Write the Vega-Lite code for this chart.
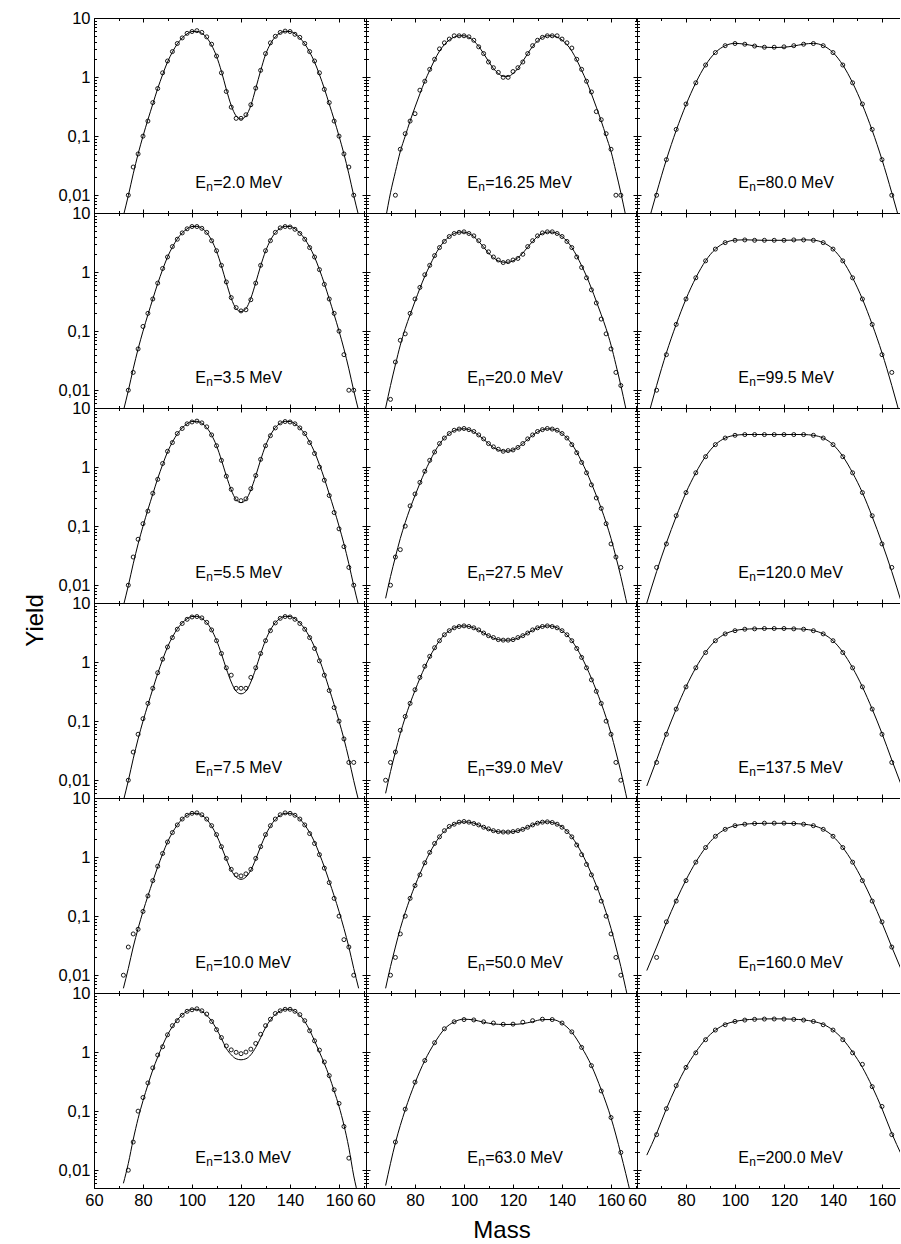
{
"$schema":"https://vega.github.io/schema/vega-lite/v6.json",
"background":"white",
"padding":{"left":23,"top":10,"right":0,"bottom":0},
"config":{"font":"Liberation Sans","view":{"stroke":null},
"axis":{"grid":false,"tickSize":-4,"labelPadding":8,"domainColor":"black","domainWidth":1,"tickColor":"black","tickWidth":1,"labelColor":"black","labelFontSize":16.5,"titleFontSize":24,"titleFontWeight":"normal","titleColor":"black","labelFlush":false,"labelOverlap":false,"labelBound":false},
"axisY":{"labelExpr":"abs(log(datum.value)/LN10 - round(log(datum.value)/LN10)) < 0.001 ? replace(format(datum.value, '~g'), '.', ',') : ''"}},
"datasets":{
"lab":[{"p":1,"t":"=2.0 MeV"},{"p":2,"t":"=3.5 MeV"},{"p":3,"t":"=5.5 MeV"},{"p":4,"t":"=7.5 MeV"},{"p":5,"t":"=10.0 MeV"},{"p":6,"t":"=13.0 MeV"},{"p":7,"t":"=16.25 MeV"},{"p":8,"t":"=20.0 MeV"},{"p":9,"t":"=27.5 MeV"},{"p":10,"t":"=39.0 MeV"},{"p":11,"t":"=50.0 MeV"},{"p":12,"t":"=63.0 MeV"},{"p":13,"t":"=80.0 MeV"},{"p":14,"t":"=99.5 MeV"},{"p":15,"t":"=120.0 MeV"},{"p":16,"t":"=137.5 MeV"},{"p":17,"t":"=160.0 MeV"},{"p":18,"t":"=200.0 MeV"}],
"d":[
{"p":1,"m":72,"f":0.0045},{"p":1,"m":74,"f":0.0098,"y":0.01},{"p":1,"m":76,"f":0.023,"y":0.03},{"p":1,"m":78,"f":0.05,"y":0.05},{"p":1,"m":80,"f":0.1,"y":0.1},{"p":1,"m":82,"f":0.19,"y":0.18},{"p":1,"m":84,"f":0.35,"y":0.37},{"p":1,"m":86,"f":0.64,"y":0.64},{"p":1,"m":88,"f":1.1,"y":1.18},{"p":1,"m":90,"f":1.8,"y":1.87},{"p":1,"m":92,"f":2.65,"y":2.7},{"p":1,"m":94,"f":3.65,"y":3.7},{"p":1,"m":96,"f":4.6,"y":4.6},{"p":1,"m":98,"f":5.4,"y":5.5},{"p":1,"m":100,"f":5.9,"y":5.9},{"p":1,"m":102,"f":5.95,"y":6.1},{"p":1,"m":104,"f":5.5,"y":5.7},{"p":1,"m":106,"f":4.65,"y":4.8},{"p":1,"m":108,"f":3.45,"y":3.6},{"p":1,"m":110,"f":2.25,"y":2.27},{"p":1,"m":112,"f":1.25,"y":1.18},{"p":1,"m":114,"f":0.62,"y":0.57},{"p":1,"m":116,"f":0.33,"y":0.31},{"p":1,"m":118,"f":0.22,"y":0.2},{"p":1,"m":120,"f":0.195,"y":0.2},{"p":1,"m":122,"f":0.22,"y":0.23},{"p":1,"m":124,"f":0.33,"y":0.34},{"p":1,"m":126,"f":0.64,"y":0.65},{"p":1,"m":128,"f":1.28,"y":1.3},{"p":1,"m":130,"f":2.4,"y":2.5},{"p":1,"m":132,"f":3.65,"y":3.8},{"p":1,"m":134,"f":4.8,"y":4.9},{"p":1,"m":136,"f":5.6,"y":5.7},{"p":1,"m":138,"f":5.95,"y":6.0},{"p":1,"m":140,"f":5.9,"y":5.9},{"p":1,"m":142,"f":5.4,"y":5.3},{"p":1,"m":144,"f":4.6,"y":4.7},{"p":1,"m":146,"f":3.65,"y":3.7},{"p":1,"m":148,"f":2.65,"y":2.7},{"p":1,"m":150,"f":1.8,"y":1.87},{"p":1,"m":152,"f":1.1,"y":1.18},{"p":1,"m":154,"f":0.64,"y":0.62},{"p":1,"m":156,"f":0.35,"y":0.37},{"p":1,"m":158,"f":0.19,"y":0.18},{"p":1,"m":160,"f":0.1,"y":0.1},{"p":1,"m":162,"f":0.05,"y":0.05},{"p":1,"m":164,"f":0.023,"y":0.03},{"p":1,"m":166,"f":0.0098,"y":0.01},{"p":1,"m":168,"f":0.0045},
{"p":2,"m":72,"f":0.0045},{"p":2,"m":74,"f":0.0098,"y":0.01},{"p":2,"m":76,"f":0.023,"y":0.02},{"p":2,"m":78,"f":0.05,"y":0.05},{"p":2,"m":80,"f":0.1,"y":0.12},{"p":2,"m":82,"f":0.19,"y":0.2},{"p":2,"m":84,"f":0.35,"y":0.35},{"p":2,"m":86,"f":0.64,"y":0.65},{"p":2,"m":88,"f":1.1,"y":1.15},{"p":2,"m":90,"f":1.8,"y":1.8},{"p":2,"m":92,"f":2.65,"y":2.7},{"p":2,"m":94,"f":3.65,"y":3.6},{"p":2,"m":96,"f":4.6,"y":4.6},{"p":2,"m":98,"f":5.4,"y":5.4},{"p":2,"m":100,"f":5.9,"y":5.9},{"p":2,"m":102,"f":5.95,"y":5.9},{"p":2,"m":104,"f":5.5,"y":5.5},{"p":2,"m":106,"f":4.65,"y":4.7},{"p":2,"m":108,"f":3.45,"y":3.4},{"p":2,"m":110,"f":2.25,"y":2.3},{"p":2,"m":112,"f":1.27,"y":1.3},{"p":2,"m":114,"f":0.66,"y":0.68},{"p":2,"m":116,"f":0.36,"y":0.37},{"p":2,"m":118,"f":0.24,"y":0.25},{"p":2,"m":120,"f":0.215,"y":0.22},{"p":2,"m":122,"f":0.24,"y":0.23},{"p":2,"m":124,"f":0.36,"y":0.34},{"p":2,"m":126,"f":0.66,"y":0.65},{"p":2,"m":128,"f":1.27,"y":1.3},{"p":2,"m":130,"f":2.25,"y":2.3},{"p":2,"m":132,"f":3.45,"y":3.4},{"p":2,"m":134,"f":4.65,"y":4.7},{"p":2,"m":136,"f":5.5,"y":5.6},{"p":2,"m":138,"f":5.95,"y":5.9},{"p":2,"m":140,"f":5.9,"y":5.8},{"p":2,"m":142,"f":5.4,"y":5.3},{"p":2,"m":144,"f":4.6,"y":4.5},{"p":2,"m":146,"f":3.65,"y":3.6},{"p":2,"m":148,"f":2.65,"y":2.6},{"p":2,"m":150,"f":1.8,"y":1.8},{"p":2,"m":152,"f":1.1,"y":1.1},{"p":2,"m":154,"f":0.64,"y":0.62},{"p":2,"m":156,"f":0.35,"y":0.35},{"p":2,"m":158,"f":0.19,"y":0.2},{"p":2,"m":160,"f":0.1,"y":0.1},{"p":2,"m":162,"f":0.05,"y":0.04},{"p":2,"m":164,"f":0.023,"y":0.01},{"p":2,"m":166,"f":0.0098,"y":0.01},{"p":2,"m":168,"f":0.0045},
{"p":3,"m":72,"f":0.0045},{"p":3,"m":74,"f":0.0098,"y":0.01},{"p":3,"m":76,"f":0.023,"y":0.03},{"p":3,"m":78,"f":0.05,"y":0.06},{"p":3,"m":80,"f":0.1,"y":0.11},{"p":3,"m":82,"f":0.19,"y":0.18},{"p":3,"m":84,"f":0.35,"y":0.36},{"p":3,"m":86,"f":0.64,"y":0.62},{"p":3,"m":88,"f":1.1,"y":1.15},{"p":3,"m":90,"f":1.8,"y":1.85},{"p":3,"m":92,"f":2.65,"y":2.6},{"p":3,"m":94,"f":3.65,"y":3.7},{"p":3,"m":96,"f":4.6,"y":4.5},{"p":3,"m":98,"f":5.4,"y":5.4},{"p":3,"m":100,"f":5.9,"y":5.8},{"p":3,"m":102,"f":5.95,"y":6.0},{"p":3,"m":104,"f":5.5,"y":5.6},{"p":3,"m":106,"f":4.65,"y":4.8},{"p":3,"m":108,"f":3.47,"y":3.5},{"p":3,"m":110,"f":2.3,"y":2.3},{"p":3,"m":112,"f":1.32,"y":1.3},{"p":3,"m":114,"f":0.71,"y":0.7},{"p":3,"m":116,"f":0.41,"y":0.42},{"p":3,"m":118,"f":0.28,"y":0.29},{"p":3,"m":120,"f":0.25,"y":0.27},{"p":3,"m":122,"f":0.28,"y":0.29},{"p":3,"m":124,"f":0.41,"y":0.43},{"p":3,"m":126,"f":0.71,"y":0.72},{"p":3,"m":128,"f":1.32,"y":1.35},{"p":3,"m":130,"f":2.3,"y":2.3},{"p":3,"m":132,"f":3.47,"y":3.4},{"p":3,"m":134,"f":4.65,"y":4.6},{"p":3,"m":136,"f":5.5,"y":5.6},{"p":3,"m":138,"f":5.95,"y":5.9},{"p":3,"m":140,"f":5.9,"y":5.8},{"p":3,"m":142,"f":5.4,"y":5.4},{"p":3,"m":144,"f":4.6,"y":4.6},{"p":3,"m":146,"f":3.65,"y":3.7},{"p":3,"m":148,"f":2.65,"y":2.6},{"p":3,"m":150,"f":1.8,"y":1.7},{"p":3,"m":152,"f":1.1,"y":1.0},{"p":3,"m":154,"f":0.64,"y":0.6},{"p":3,"m":156,"f":0.35,"y":0.33},{"p":3,"m":158,"f":0.19,"y":0.17},{"p":3,"m":160,"f":0.1,"y":0.09},{"p":3,"m":162,"f":0.05,"y":0.045},{"p":3,"m":164,"f":0.023,"y":0.02},{"p":3,"m":166,"f":0.0098,"y":0.01},{"p":3,"m":168,"f":0.0045},
{"p":4,"m":72,"f":0.0045},{"p":4,"m":74,"f":0.0098,"y":0.01},{"p":4,"m":76,"f":0.023,"y":0.03},{"p":4,"m":78,"f":0.05,"y":0.06},{"p":4,"m":80,"f":0.1,"y":0.11},{"p":4,"m":82,"f":0.19,"y":0.2},{"p":4,"m":84,"f":0.35,"y":0.36},{"p":4,"m":86,"f":0.64,"y":0.66},{"p":4,"m":88,"f":1.1,"y":1.12},{"p":4,"m":90,"f":1.8,"y":1.8},{"p":4,"m":92,"f":2.65,"y":2.6},{"p":4,"m":94,"f":3.65,"y":3.6},{"p":4,"m":96,"f":4.6,"y":4.5},{"p":4,"m":98,"f":5.4,"y":5.3},{"p":4,"m":100,"f":5.9,"y":5.8},{"p":4,"m":102,"f":5.95,"y":5.9},{"p":4,"m":104,"f":5.5,"y":5.6},{"p":4,"m":106,"f":4.65,"y":4.7},{"p":4,"m":108,"f":3.5,"y":3.5},{"p":4,"m":110,"f":2.33,"y":2.3},{"p":4,"m":112,"f":1.38,"y":1.4},{"p":4,"m":114,"f":0.77,"y":0.8},{"p":4,"m":116,"f":0.46,"y":0.6},{"p":4,"m":118,"f":0.32,"y":0.36},{"p":4,"m":120,"f":0.29,"y":0.36},{"p":4,"m":122,"f":0.32,"y":0.36},{"p":4,"m":124,"f":0.46,"y":0.55},{"p":4,"m":126,"f":0.77,"y":0.8},{"p":4,"m":128,"f":1.38,"y":1.4},{"p":4,"m":130,"f":2.33,"y":2.3},{"p":4,"m":132,"f":3.5,"y":3.4},{"p":4,"m":134,"f":4.65,"y":4.6},{"p":4,"m":136,"f":5.5,"y":5.5},{"p":4,"m":138,"f":5.95,"y":5.9},{"p":4,"m":140,"f":5.9,"y":5.8},{"p":4,"m":142,"f":5.4,"y":5.3},{"p":4,"m":144,"f":4.6,"y":4.5},{"p":4,"m":146,"f":3.65,"y":3.6},{"p":4,"m":148,"f":2.65,"y":2.6},{"p":4,"m":150,"f":1.8,"y":1.7},{"p":4,"m":152,"f":1.1,"y":1.05},{"p":4,"m":154,"f":0.64,"y":0.6},{"p":4,"m":156,"f":0.35,"y":0.33},{"p":4,"m":158,"f":0.19,"y":0.17},{"p":4,"m":160,"f":0.1,"y":0.1},{"p":4,"m":162,"f":0.05,"y":0.05},{"p":4,"m":164,"f":0.023,"y":0.02},{"p":4,"m":166,"f":0.0098,"y":0.02},{"p":4,"m":168,"f":0.0045},
{"p":5,"m":72,"f":0.006,"y":0.01},{"p":5,"m":74,"f":0.013,"y":0.03},{"p":5,"m":76,"f":0.03,"y":0.05},{"p":5,"m":78,"f":0.062,"y":0.06},{"p":5,"m":80,"f":0.12,"y":0.12},{"p":5,"m":82,"f":0.22,"y":0.22},{"p":5,"m":84,"f":0.39,"y":0.4},{"p":5,"m":86,"f":0.68,"y":0.7},{"p":5,"m":88,"f":1.13,"y":1.15},{"p":5,"m":90,"f":1.8,"y":1.8},{"p":5,"m":92,"f":2.6,"y":2.6},{"p":5,"m":94,"f":3.5,"y":3.5},{"p":5,"m":96,"f":4.4,"y":4.4},{"p":5,"m":98,"f":5.1,"y":5.1},{"p":5,"m":100,"f":5.5,"y":5.5},{"p":5,"m":102,"f":5.5,"y":5.6},{"p":5,"m":104,"f":5.1,"y":5.2},{"p":5,"m":106,"f":4.35,"y":4.4},{"p":5,"m":108,"f":3.35,"y":3.4},{"p":5,"m":110,"f":2.35,"y":2.4},{"p":5,"m":112,"f":1.5,"y":1.5},{"p":5,"m":114,"f":0.92,"y":0.95},{"p":5,"m":116,"f":0.6,"y":0.62},{"p":5,"m":118,"f":0.46,"y":0.5},{"p":5,"m":120,"f":0.42,"y":0.48},{"p":5,"m":122,"f":0.46,"y":0.52},{"p":5,"m":124,"f":0.6,"y":0.62},{"p":5,"m":126,"f":0.92,"y":0.95},{"p":5,"m":128,"f":1.5,"y":1.5},{"p":5,"m":130,"f":2.35,"y":2.4},{"p":5,"m":132,"f":3.35,"y":3.4},{"p":5,"m":134,"f":4.35,"y":4.4},{"p":5,"m":136,"f":5.1,"y":5.2},{"p":5,"m":138,"f":5.5,"y":5.6},{"p":5,"m":140,"f":5.5,"y":5.5},{"p":5,"m":142,"f":5.1,"y":5.1},{"p":5,"m":144,"f":4.4,"y":4.4},{"p":5,"m":146,"f":3.5,"y":3.5},{"p":5,"m":148,"f":2.6,"y":2.5},{"p":5,"m":150,"f":1.8,"y":1.7},{"p":5,"m":152,"f":1.13,"y":1.1},{"p":5,"m":154,"f":0.68,"y":0.65},{"p":5,"m":156,"f":0.39,"y":0.37},{"p":5,"m":158,"f":0.22,"y":0.2},{"p":5,"m":160,"f":0.12,"y":0.1},{"p":5,"m":162,"f":0.062,"y":0.04},{"p":5,"m":164,"f":0.03,"y":0.03},{"p":5,"m":166,"f":0.013,"y":0.01},{"p":5,"m":168,"f":0.006},
{"p":6,"m":72,"f":0.006},{"p":6,"m":74,"f":0.013,"y":0.01},{"p":6,"m":76,"f":0.033,"y":0.03},{"p":6,"m":78,"f":0.075,"y":0.1},{"p":6,"m":80,"f":0.15,"y":0.17},{"p":6,"m":82,"f":0.28,"y":0.3},{"p":6,"m":84,"f":0.5,"y":0.54},{"p":6,"m":86,"f":0.82,"y":0.89},{"p":6,"m":88,"f":1.3,"y":1.23},{"p":6,"m":90,"f":1.95,"y":1.96},{"p":6,"m":92,"f":2.7,"y":2.8},{"p":6,"m":94,"f":3.5,"y":3.4},{"p":6,"m":96,"f":4.3,"y":4.2},{"p":6,"m":98,"f":4.9,"y":4.9},{"p":6,"m":100,"f":5.3,"y":5.2},{"p":6,"m":102,"f":5.3,"y":5.4},{"p":6,"m":104,"f":4.9,"y":5.0},{"p":6,"m":106,"f":4.2,"y":4.4},{"p":6,"m":108,"f":3.35,"y":3.3},{"p":6,"m":110,"f":2.45,"y":2.4},{"p":6,"m":112,"f":1.7,"y":1.76},{"p":6,"m":114,"f":1.15,"y":1.27},{"p":6,"m":116,"f":0.9,"y":1.09},{"p":6,"m":118,"f":0.77,"y":0.99},{"p":6,"m":120,"f":0.74,"y":0.94},{"p":6,"m":122,"f":0.77,"y":1.0},{"p":6,"m":124,"f":0.9,"y":1.12},{"p":6,"m":126,"f":1.2,"y":1.4},{"p":6,"m":128,"f":1.75,"y":2.0},{"p":6,"m":130,"f":2.6,"y":2.8},{"p":6,"m":132,"f":3.5,"y":3.6},{"p":6,"m":134,"f":4.35,"y":4.5},{"p":6,"m":136,"f":4.95,"y":5.0},{"p":6,"m":138,"f":5.3,"y":5.3},{"p":6,"m":140,"f":5.3,"y":5.3},{"p":6,"m":142,"f":4.9,"y":4.9},{"p":6,"m":144,"f":4.2,"y":4.3},{"p":6,"m":146,"f":3.3,"y":3.4},{"p":6,"m":148,"f":2.35,"y":2.3},{"p":6,"m":150,"f":1.55,"y":1.55},{"p":6,"m":152,"f":1.0,"y":1.08},{"p":6,"m":154,"f":0.64,"y":0.68},{"p":6,"m":156,"f":0.39,"y":0.4},{"p":6,"m":158,"f":0.22,"y":0.23},{"p":6,"m":160,"f":0.12,"y":0.135},{"p":6,"m":162,"f":0.058,"y":0.055},{"p":6,"m":164,"f":0.024,"y":0.016},{"p":6,"m":166,"f":0.008},{"p":6,"m":168,"f":0.0035},
{"p":7,"m":68,"f":0.004},{"p":7,"m":70,"f":0.011},{"p":7,"m":72,"f":0.025,"y":0.01},{"p":7,"m":74,"f":0.055,"y":0.06},{"p":7,"m":76,"f":0.1,"y":0.11},{"p":7,"m":78,"f":0.18,"y":0.18},{"p":7,"m":80,"f":0.31,"y":0.24},{"p":7,"m":82,"f":0.52,"y":0.6},{"p":7,"m":84,"f":0.85,"y":0.85},{"p":7,"m":86,"f":1.3,"y":1.35},{"p":7,"m":88,"f":1.95,"y":2.0},{"p":7,"m":90,"f":2.75,"y":3.0},{"p":7,"m":92,"f":3.55,"y":3.8},{"p":7,"m":94,"f":4.25,"y":4.4},{"p":7,"m":96,"f":4.75,"y":5.0},{"p":7,"m":98,"f":5.0,"y":5.0},{"p":7,"m":100,"f":5.0,"y":5.0},{"p":7,"m":102,"f":4.7,"y":4.8},{"p":7,"m":104,"f":4.1,"y":4.2},{"p":7,"m":106,"f":3.3,"y":3.25},{"p":7,"m":108,"f":2.5,"y":2.5},{"p":7,"m":110,"f":1.85,"y":1.8},{"p":7,"m":112,"f":1.4,"y":1.44},{"p":7,"m":114,"f":1.15,"y":1.2},{"p":7,"m":116,"f":1.03,"y":0.99},{"p":7,"m":118,"f":1.03,"y":0.99},{"p":7,"m":120,"f":1.15,"y":1.24},{"p":7,"m":122,"f":1.4,"y":1.44},{"p":7,"m":124,"f":1.85,"y":1.8},{"p":7,"m":126,"f":2.5,"y":2.5},{"p":7,"m":128,"f":3.3,"y":3.4},{"p":7,"m":130,"f":4.1,"y":4.2},{"p":7,"m":132,"f":4.7,"y":4.7},{"p":7,"m":134,"f":5.0,"y":5.0},{"p":7,"m":136,"f":5.0,"y":5.0},{"p":7,"m":138,"f":4.75,"y":5.0},{"p":7,"m":140,"f":4.25,"y":4.4},{"p":7,"m":142,"f":3.55,"y":3.8},{"p":7,"m":144,"f":2.75,"y":3.1},{"p":7,"m":146,"f":1.95,"y":2.0},{"p":7,"m":148,"f":1.3,"y":1.35},{"p":7,"m":150,"f":0.85,"y":0.85},{"p":7,"m":152,"f":0.52,"y":0.56},{"p":7,"m":154,"f":0.31,"y":0.26},{"p":7,"m":156,"f":0.18,"y":0.19},{"p":7,"m":158,"f":0.1,"y":0.11},{"p":7,"m":160,"f":0.055,"y":0.06},{"p":7,"m":162,"f":0.025,"y":0.01},{"p":7,"m":164,"f":0.011,"y":0.01},{"p":7,"m":166,"f":0.0045},{"p":7,"m":168,"f":0.0018},
{"p":8,"m":68,"f":0.005},{"p":8,"m":70,"f":0.012,"y":0.007},{"p":8,"m":72,"f":0.027,"y":0.03},{"p":8,"m":74,"f":0.058,"y":0.07},{"p":8,"m":76,"f":0.11,"y":0.09},{"p":8,"m":78,"f":0.19,"y":0.2},{"p":8,"m":80,"f":0.32,"y":0.35},{"p":8,"m":82,"f":0.53,"y":0.55},{"p":8,"m":84,"f":0.85,"y":0.9},{"p":8,"m":86,"f":1.28,"y":1.3},{"p":8,"m":88,"f":1.88,"y":1.9},{"p":8,"m":90,"f":2.6,"y":2.6},{"p":8,"m":92,"f":3.35,"y":3.3},{"p":8,"m":94,"f":4.0,"y":4.0},{"p":8,"m":96,"f":4.5,"y":4.5},{"p":8,"m":98,"f":4.75,"y":4.7},{"p":8,"m":100,"f":4.75,"y":4.8},{"p":8,"m":102,"f":4.5,"y":4.5},{"p":8,"m":104,"f":4.0,"y":4.1},{"p":8,"m":106,"f":3.3,"y":3.4},{"p":8,"m":108,"f":2.65,"y":2.7},{"p":8,"m":110,"f":2.1,"y":2.2},{"p":8,"m":112,"f":1.75,"y":1.8},{"p":8,"m":114,"f":1.55,"y":1.6},{"p":8,"m":116,"f":1.47,"y":1.45},{"p":8,"m":118,"f":1.47,"y":1.5},{"p":8,"m":120,"f":1.55,"y":1.6},{"p":8,"m":122,"f":1.75,"y":1.7},{"p":8,"m":124,"f":2.1,"y":2.0},{"p":8,"m":126,"f":2.65,"y":2.7},{"p":8,"m":128,"f":3.3,"y":3.4},{"p":8,"m":130,"f":4.0,"y":4.1},{"p":8,"m":132,"f":4.5,"y":4.6},{"p":8,"m":134,"f":4.75,"y":4.8},{"p":8,"m":136,"f":4.75,"y":4.8},{"p":8,"m":138,"f":4.5,"y":4.5},{"p":8,"m":140,"f":4.0,"y":4.0},{"p":8,"m":142,"f":3.35,"y":3.3},{"p":8,"m":144,"f":2.6,"y":2.6},{"p":8,"m":146,"f":1.88,"y":1.8},{"p":8,"m":148,"f":1.28,"y":1.2},{"p":8,"m":150,"f":0.85,"y":0.8},{"p":8,"m":152,"f":0.53,"y":0.5},{"p":8,"m":154,"f":0.32,"y":0.3},{"p":8,"m":156,"f":0.19,"y":0.16},{"p":8,"m":158,"f":0.11,"y":0.09},{"p":8,"m":160,"f":0.058,"y":0.05},{"p":8,"m":162,"f":0.027,"y":0.02},{"p":8,"m":164,"f":0.012,"y":0.012},{"p":8,"m":166,"f":0.005},{"p":8,"m":168,"f":0.002},
{"p":9,"m":68,"f":0.006},{"p":9,"m":70,"f":0.014,"y":0.01},{"p":9,"m":72,"f":0.03,"y":0.03},{"p":9,"m":74,"f":0.062,"y":0.04},{"p":9,"m":76,"f":0.115,"y":0.1},{"p":9,"m":78,"f":0.2,"y":0.22},{"p":9,"m":80,"f":0.33,"y":0.35},{"p":9,"m":82,"f":0.53,"y":0.55},{"p":9,"m":84,"f":0.83,"y":0.85},{"p":9,"m":86,"f":1.24,"y":1.3},{"p":9,"m":88,"f":1.8,"y":1.8},{"p":9,"m":90,"f":2.45,"y":2.5},{"p":9,"m":92,"f":3.1,"y":3.1},{"p":9,"m":94,"f":3.7,"y":3.7},{"p":9,"m":96,"f":4.15,"y":4.2},{"p":9,"m":98,"f":4.4,"y":4.4},{"p":9,"m":100,"f":4.45,"y":4.5},{"p":9,"m":102,"f":4.3,"y":4.3},{"p":9,"m":104,"f":3.95,"y":4.0},{"p":9,"m":106,"f":3.45,"y":3.5},{"p":9,"m":108,"f":2.95,"y":3.0},{"p":9,"m":110,"f":2.5,"y":2.5},{"p":9,"m":112,"f":2.15,"y":2.2},{"p":9,"m":114,"f":1.95,"y":2.0},{"p":9,"m":116,"f":1.87,"y":1.85},{"p":9,"m":118,"f":1.87,"y":1.9},{"p":9,"m":120,"f":1.95,"y":1.95},{"p":9,"m":122,"f":2.15,"y":2.15},{"p":9,"m":124,"f":2.5,"y":2.5},{"p":9,"m":126,"f":2.95,"y":3.0},{"p":9,"m":128,"f":3.45,"y":3.5},{"p":9,"m":130,"f":3.95,"y":4.0},{"p":9,"m":132,"f":4.3,"y":4.3},{"p":9,"m":134,"f":4.45,"y":4.5},{"p":9,"m":136,"f":4.4,"y":4.4},{"p":9,"m":138,"f":4.15,"y":4.2},{"p":9,"m":140,"f":3.7,"y":3.7},{"p":9,"m":142,"f":3.1,"y":3.1},{"p":9,"m":144,"f":2.45,"y":2.4},{"p":9,"m":146,"f":1.8,"y":1.75},{"p":9,"m":148,"f":1.24,"y":1.2},{"p":9,"m":150,"f":0.83,"y":0.8},{"p":9,"m":152,"f":0.53,"y":0.5},{"p":9,"m":154,"f":0.33,"y":0.3},{"p":9,"m":156,"f":0.2,"y":0.2},{"p":9,"m":158,"f":0.115,"y":0.11},{"p":9,"m":160,"f":0.062,"y":0.05},{"p":9,"m":162,"f":0.03,"y":0.03},{"p":9,"m":164,"f":0.014,"y":0.02},{"p":9,"m":166,"f":0.006},{"p":9,"m":168,"f":0.0025},
{"p":10,"m":68,"f":0.006,"y":0.01},{"p":10,"m":70,"f":0.014,"y":0.02},{"p":10,"m":72,"f":0.03,"y":0.03},{"p":10,"m":74,"f":0.062,"y":0.07},{"p":10,"m":76,"f":0.115,"y":0.12},{"p":10,"m":78,"f":0.2,"y":0.2},{"p":10,"m":80,"f":0.33,"y":0.34},{"p":10,"m":82,"f":0.53,"y":0.55},{"p":10,"m":84,"f":0.82,"y":0.85},{"p":10,"m":86,"f":1.22,"y":1.25},{"p":10,"m":88,"f":1.72,"y":1.75},{"p":10,"m":90,"f":2.3,"y":2.3},{"p":10,"m":92,"f":2.9,"y":2.9},{"p":10,"m":94,"f":3.4,"y":3.4},{"p":10,"m":96,"f":3.8,"y":3.8},{"p":10,"m":98,"f":4.05,"y":4.0},{"p":10,"m":100,"f":4.1,"y":4.1},{"p":10,"m":102,"f":4.0,"y":4.0},{"p":10,"m":104,"f":3.8,"y":3.8},{"p":10,"m":106,"f":3.45,"y":3.5},{"p":10,"m":108,"f":3.1,"y":3.1},{"p":10,"m":110,"f":2.8,"y":2.8},{"p":10,"m":112,"f":2.55,"y":2.6},{"p":10,"m":114,"f":2.4,"y":2.4},{"p":10,"m":116,"f":2.35,"y":2.35},{"p":10,"m":118,"f":2.35,"y":2.35},{"p":10,"m":120,"f":2.4,"y":2.4},{"p":10,"m":122,"f":2.55,"y":2.6},{"p":10,"m":124,"f":2.8,"y":2.8},{"p":10,"m":126,"f":3.1,"y":3.1},{"p":10,"m":128,"f":3.45,"y":3.5},{"p":10,"m":130,"f":3.8,"y":3.8},{"p":10,"m":132,"f":4.0,"y":4.0},{"p":10,"m":134,"f":4.1,"y":4.1},{"p":10,"m":136,"f":4.05,"y":4.0},{"p":10,"m":138,"f":3.8,"y":3.8},{"p":10,"m":140,"f":3.4,"y":3.4},{"p":10,"m":142,"f":2.9,"y":2.9},{"p":10,"m":144,"f":2.3,"y":2.3},{"p":10,"m":146,"f":1.72,"y":1.7},{"p":10,"m":148,"f":1.22,"y":1.2},{"p":10,"m":150,"f":0.82,"y":0.8},{"p":10,"m":152,"f":0.53,"y":0.5},{"p":10,"m":154,"f":0.33,"y":0.32},{"p":10,"m":156,"f":0.2,"y":0.2},{"p":10,"m":158,"f":0.115,"y":0.1},{"p":10,"m":160,"f":0.062,"y":0.06},{"p":10,"m":162,"f":0.03,"y":0.02},{"p":10,"m":164,"f":0.014,"y":0.01},{"p":10,"m":166,"f":0.006},{"p":10,"m":168,"f":0.0025},
{"p":11,"m":68,"f":0.006},{"p":11,"m":70,"f":0.014,"y":0.01},{"p":11,"m":72,"f":0.03,"y":0.02},{"p":11,"m":74,"f":0.062,"y":0.05},{"p":11,"m":76,"f":0.115,"y":0.1},{"p":11,"m":78,"f":0.2,"y":0.2},{"p":11,"m":80,"f":0.33,"y":0.33},{"p":11,"m":82,"f":0.52,"y":0.5},{"p":11,"m":84,"f":0.8,"y":0.8},{"p":11,"m":86,"f":1.18,"y":1.2},{"p":11,"m":88,"f":1.65,"y":1.7},{"p":11,"m":90,"f":2.2,"y":2.2},{"p":11,"m":92,"f":2.75,"y":2.8},{"p":11,"m":94,"f":3.25,"y":3.3},{"p":11,"m":96,"f":3.6,"y":3.6},{"p":11,"m":98,"f":3.85,"y":3.9},{"p":11,"m":100,"f":3.95,"y":4.0},{"p":11,"m":102,"f":3.9,"y":3.9},{"p":11,"m":104,"f":3.75,"y":3.7},{"p":11,"m":106,"f":3.5,"y":3.5},{"p":11,"m":108,"f":3.2,"y":3.2},{"p":11,"m":110,"f":2.95,"y":3.0},{"p":11,"m":112,"f":2.78,"y":2.8},{"p":11,"m":114,"f":2.68,"y":2.7},{"p":11,"m":116,"f":2.65,"y":2.65},{"p":11,"m":118,"f":2.65,"y":2.65},{"p":11,"m":120,"f":2.68,"y":2.7},{"p":11,"m":122,"f":2.78,"y":2.8},{"p":11,"m":124,"f":2.95,"y":2.95},{"p":11,"m":126,"f":3.2,"y":3.2},{"p":11,"m":128,"f":3.5,"y":3.5},{"p":11,"m":130,"f":3.75,"y":3.75},{"p":11,"m":132,"f":3.9,"y":3.9},{"p":11,"m":134,"f":3.95,"y":3.95},{"p":11,"m":136,"f":3.85,"y":3.85},{"p":11,"m":138,"f":3.6,"y":3.6},{"p":11,"m":140,"f":3.25,"y":3.2},{"p":11,"m":142,"f":2.75,"y":2.7},{"p":11,"m":144,"f":2.2,"y":2.2},{"p":11,"m":146,"f":1.65,"y":1.6},{"p":11,"m":148,"f":1.18,"y":1.1},{"p":11,"m":150,"f":0.8,"y":0.75},{"p":11,"m":152,"f":0.52,"y":0.5},{"p":11,"m":154,"f":0.33,"y":0.3},{"p":11,"m":156,"f":0.2,"y":0.18},{"p":11,"m":158,"f":0.115,"y":0.1},{"p":11,"m":160,"f":0.062,"y":0.05},{"p":11,"m":162,"f":0.03,"y":0.02},{"p":11,"m":164,"f":0.014,"y":0.01},{"p":11,"m":166,"f":0.006},{"p":11,"m":168,"f":0.0025},
{"p":12,"m":68,"f":0.0055},{"p":12,"m":72,"f":0.029,"y":0.03},{"p":12,"m":76,"f":0.105,"y":0.108},{"p":12,"m":80,"f":0.3,"y":0.31},{"p":12,"m":84,"f":0.72,"y":0.72},{"p":12,"m":88,"f":1.43,"y":1.44},{"p":12,"m":92,"f":2.45,"y":2.48},{"p":12,"m":96,"f":3.25,"y":3.26},{"p":12,"m":100,"f":3.6,"y":3.55},{"p":12,"m":104,"f":3.5,"y":3.5},{"p":12,"m":108,"f":3.2,"y":3.25},{"p":12,"m":112,"f":3.0,"y":3.1},{"p":12,"m":116,"f":2.93,"y":2.95},{"p":12,"m":120,"f":2.94,"y":2.97},{"p":12,"m":124,"f":3.03,"y":3.2},{"p":12,"m":128,"f":3.27,"y":3.4},{"p":12,"m":132,"f":3.55,"y":3.6},{"p":12,"m":136,"f":3.55,"y":3.55},{"p":12,"m":140,"f":3.07,"y":3.1},{"p":12,"m":144,"f":2.17,"y":2.2},{"p":12,"m":148,"f":1.21,"y":1.2},{"p":12,"m":152,"f":0.59,"y":0.59},{"p":12,"m":156,"f":0.23,"y":0.22},{"p":12,"m":160,"f":0.077,"y":0.078},{"p":12,"m":164,"f":0.019,"y":0.02},{"p":12,"m":168,"f":0.004},
{"p":13,"m":64,"f":0.0028},{"p":13,"m":68,"f":0.011,"y":0.01},{"p":13,"m":72,"f":0.04,"y":0.04},{"p":13,"m":76,"f":0.125,"y":0.13},{"p":13,"m":80,"f":0.34,"y":0.35},{"p":13,"m":84,"f":0.8,"y":0.8},{"p":13,"m":88,"f":1.6,"y":1.6},{"p":13,"m":92,"f":2.6,"y":2.6},{"p":13,"m":96,"f":3.4,"y":3.4},{"p":13,"m":100,"f":3.72,"y":3.7},{"p":13,"m":104,"f":3.6,"y":3.6},{"p":13,"m":108,"f":3.36,"y":3.35},{"p":13,"m":112,"f":3.2,"y":3.2},{"p":13,"m":116,"f":3.16,"y":3.2},{"p":13,"m":120,"f":3.2,"y":3.25},{"p":13,"m":124,"f":3.36,"y":3.4},{"p":13,"m":128,"f":3.6,"y":3.6},{"p":13,"m":132,"f":3.72,"y":3.7},{"p":13,"m":136,"f":3.4,"y":3.4},{"p":13,"m":140,"f":2.6,"y":2.6},{"p":13,"m":144,"f":1.6,"y":1.6},{"p":13,"m":148,"f":0.8,"y":0.8},{"p":13,"m":152,"f":0.34,"y":0.35},{"p":13,"m":156,"f":0.125,"y":0.13},{"p":13,"m":160,"f":0.04,"y":0.04},{"p":13,"m":164,"f":0.011,"y":0.01},{"p":13,"m":168,"f":0.0028},
{"p":14,"m":64,"f":0.003},{"p":14,"m":68,"f":0.012,"y":0.01},{"p":14,"m":72,"f":0.043,"y":0.04},{"p":14,"m":76,"f":0.13,"y":0.13},{"p":14,"m":80,"f":0.35,"y":0.35},{"p":14,"m":84,"f":0.8,"y":0.8},{"p":14,"m":88,"f":1.55,"y":1.55},{"p":14,"m":92,"f":2.45,"y":2.45},{"p":14,"m":96,"f":3.15,"y":3.15},{"p":14,"m":100,"f":3.47,"y":3.45},{"p":14,"m":104,"f":3.52,"y":3.5},{"p":14,"m":108,"f":3.48,"y":3.45},{"p":14,"m":112,"f":3.45,"y":3.45},{"p":14,"m":116,"f":3.45,"y":3.45},{"p":14,"m":120,"f":3.45,"y":3.45},{"p":14,"m":124,"f":3.48,"y":3.5},{"p":14,"m":128,"f":3.52,"y":3.5},{"p":14,"m":132,"f":3.47,"y":3.45},{"p":14,"m":136,"f":3.15,"y":3.15},{"p":14,"m":140,"f":2.45,"y":2.45},{"p":14,"m":144,"f":1.55,"y":1.55},{"p":14,"m":148,"f":0.8,"y":0.8},{"p":14,"m":152,"f":0.35,"y":0.35},{"p":14,"m":156,"f":0.13,"y":0.13},{"p":14,"m":160,"f":0.043,"y":0.04},{"p":14,"m":164,"f":0.012,"y":0.02},{"p":14,"m":168,"f":0.003},
{"p":15,"m":64,"f":0.005},{"p":15,"m":68,"f":0.017,"y":0.02},{"p":15,"m":72,"f":0.052,"y":0.05},{"p":15,"m":76,"f":0.145,"y":0.15},{"p":15,"m":80,"f":0.37,"y":0.37},{"p":15,"m":84,"f":0.8,"y":0.8},{"p":15,"m":88,"f":1.52,"y":1.5},{"p":15,"m":92,"f":2.4,"y":2.4},{"p":15,"m":96,"f":3.1,"y":3.1},{"p":15,"m":100,"f":3.45,"y":3.45},{"p":15,"m":104,"f":3.55,"y":3.55},{"p":15,"m":108,"f":3.56,"y":3.55},{"p":15,"m":112,"f":3.55,"y":3.55},{"p":15,"m":116,"f":3.55,"y":3.55},{"p":15,"m":120,"f":3.55,"y":3.55},{"p":15,"m":124,"f":3.56,"y":3.55},{"p":15,"m":128,"f":3.55,"y":3.55},{"p":15,"m":132,"f":3.45,"y":3.45},{"p":15,"m":136,"f":3.1,"y":3.1},{"p":15,"m":140,"f":2.4,"y":2.4},{"p":15,"m":144,"f":1.52,"y":1.5},{"p":15,"m":148,"f":0.8,"y":0.8},{"p":15,"m":152,"f":0.37,"y":0.37},{"p":15,"m":156,"f":0.145,"y":0.15},{"p":15,"m":160,"f":0.052,"y":0.05},{"p":15,"m":164,"f":0.017,"y":0.02},{"p":15,"m":168,"f":0.005},
{"p":16,"m":64,"f":0.008},{"p":16,"m":68,"f":0.022,"y":0.02},{"p":16,"m":72,"f":0.062,"y":0.06},{"p":16,"m":76,"f":0.16,"y":0.16},{"p":16,"m":80,"f":0.38,"y":0.38},{"p":16,"m":84,"f":0.8,"y":0.8},{"p":16,"m":88,"f":1.47,"y":1.45},{"p":16,"m":92,"f":2.3,"y":2.3},{"p":16,"m":96,"f":3.0,"y":3.0},{"p":16,"m":100,"f":3.42,"y":3.4},{"p":16,"m":104,"f":3.6,"y":3.6},{"p":16,"m":108,"f":3.66,"y":3.65},{"p":16,"m":112,"f":3.68,"y":3.7},{"p":16,"m":116,"f":3.68,"y":3.7},{"p":16,"m":120,"f":3.68,"y":3.7},{"p":16,"m":124,"f":3.66,"y":3.65},{"p":16,"m":128,"f":3.6,"y":3.6},{"p":16,"m":132,"f":3.42,"y":3.4},{"p":16,"m":136,"f":3.0,"y":3.0},{"p":16,"m":140,"f":2.3,"y":2.3},{"p":16,"m":144,"f":1.47,"y":1.45},{"p":16,"m":148,"f":0.8,"y":0.8},{"p":16,"m":152,"f":0.38,"y":0.38},{"p":16,"m":156,"f":0.16,"y":0.16},{"p":16,"m":160,"f":0.062,"y":0.06},{"p":16,"m":164,"f":0.022,"y":0.02},{"p":16,"m":168,"f":0.008},
{"p":17,"m":64,"f":0.012},{"p":17,"m":68,"f":0.03,"y":0.02},{"p":17,"m":72,"f":0.077,"y":0.08},{"p":17,"m":76,"f":0.185,"y":0.18},{"p":17,"m":80,"f":0.41,"y":0.4},{"p":17,"m":84,"f":0.82,"y":0.82},{"p":17,"m":88,"f":1.45,"y":1.45},{"p":17,"m":92,"f":2.25,"y":2.25},{"p":17,"m":96,"f":2.95,"y":2.95},{"p":17,"m":100,"f":3.4,"y":3.4},{"p":17,"m":104,"f":3.6,"y":3.6},{"p":17,"m":108,"f":3.7,"y":3.7},{"p":17,"m":112,"f":3.73,"y":3.75},{"p":17,"m":116,"f":3.73,"y":3.75},{"p":17,"m":120,"f":3.73,"y":3.75},{"p":17,"m":124,"f":3.7,"y":3.7},{"p":17,"m":128,"f":3.6,"y":3.6},{"p":17,"m":132,"f":3.4,"y":3.4},{"p":17,"m":136,"f":2.95,"y":2.95},{"p":17,"m":140,"f":2.25,"y":2.25},{"p":17,"m":144,"f":1.45,"y":1.45},{"p":17,"m":148,"f":0.82,"y":0.82},{"p":17,"m":152,"f":0.41,"y":0.4},{"p":17,"m":156,"f":0.185,"y":0.18},{"p":17,"m":160,"f":0.077,"y":0.08},{"p":17,"m":164,"f":0.03,"y":0.03},{"p":17,"m":168,"f":0.012},
{"p":18,"m":64,"f":0.018},{"p":18,"m":68,"f":0.042,"y":0.04},{"p":18,"m":72,"f":0.11,"y":0.11},{"p":18,"m":76,"f":0.26,"y":0.27},{"p":18,"m":80,"f":0.55,"y":0.55},{"p":18,"m":84,"f":1.0,"y":0.97},{"p":18,"m":88,"f":1.65,"y":1.62},{"p":18,"m":92,"f":2.35,"y":2.36},{"p":18,"m":96,"f":2.95,"y":2.9},{"p":18,"m":100,"f":3.3,"y":3.3},{"p":18,"m":104,"f":3.5,"y":3.48},{"p":18,"m":108,"f":3.6,"y":3.58},{"p":18,"m":112,"f":3.64,"y":3.62},{"p":18,"m":116,"f":3.65,"y":3.63},{"p":18,"m":120,"f":3.64,"y":3.62},{"p":18,"m":124,"f":3.6,"y":3.58},{"p":18,"m":128,"f":3.5,"y":3.48},{"p":18,"m":132,"f":3.3,"y":3.3},{"p":18,"m":136,"f":2.95,"y":2.9},{"p":18,"m":140,"f":2.35,"y":2.36},{"p":18,"m":144,"f":1.65,"y":1.62},{"p":18,"m":148,"f":1.0,"y":0.97},{"p":18,"m":152,"f":0.55,"y":0.62},{"p":18,"m":156,"f":0.26,"y":0.26},{"p":18,"m":160,"f":0.11,"y":0.12},{"p":18,"m":164,"f":0.042,"y":0.04},{"p":18,"m":168,"f":0.018}
]},
"columns":3,
"spacing":0,
"bounds":"flush",
"concat":[
{"width":272,"height":195,"data":{"name":"d"},"transform":[{"filter":"datum.p==1"}],"resolve":{"axis":{"x":"independent","y":"independent"}},"layer":[
{"mark":{"type":"line","color":"black","strokeWidth":1,"interpolate":"monotone","clip":true},"encoding":{"x":{"field":"m","type":"quantitative","scale":{"domain":[60,171],"nice":false,"zero":false},"axis":{"orient":"bottom","labels":false,"title":null,"values":[60,80,100,120,140,160]}},"y":{"field":"f","type":"quantitative","scale":{"type":"log","domain":[0.005,10],"nice":false},"axis":{"orient":"left","title":null,"values":[0.01,0.1,1,10]}}}},
{"transform":[{"filter":"isValid(datum.y)"}],"mark":{"type":"point","shape":"circle","filled":false,"color":"black","opacity":1,"size":16,"strokeWidth":0.9,"clip":true},"encoding":{"x":{"field":"m","type":"quantitative","axis":{"orient":"top","labels":false,"title":null,"values":[60,80,100,120,140,160]}},"y":{"field":"y","type":"quantitative","axis":{"orient":"right","labels":false,"title":null,"values":[0.01,0.1,1,10]}}}},
{"data":{"name":"lab"},"transform":[{"filter":"datum.p==1"}],"mark":{"type":"text","text":"E","align":"left","baseline":"middle","fontSize":16},"encoding":{"x":{"datum":101.3,"type":"quantitative","axis":{"orient":"bottom","labels":false,"domain":false,"title":null,"tickSize":-2.5,"values":[70,90,110,130,150,170]}},"y":{"datum":0.016,"type":"quantitative","axis":{"orient":"left","labels":false,"domain":false,"title":null,"tickSize":-2.5,"values":[0.005,0.006,0.007,0.008,0.009,0.02,0.03,0.04,0.05,0.06,0.07,0.08,0.09,0.2,0.3,0.4,0.5,0.6,0.7,0.8,0.9,2,3,4,5,6,7,8,9]}}}},
{"data":{"name":"lab"},"transform":[{"filter":"datum.p==1"}],"mark":{"type":"text","text":"n","align":"left","baseline":"middle","fontSize":12,"dx":11,"dy":4},"encoding":{"x":{"datum":101.3,"type":"quantitative","axis":{"orient":"top","labels":false,"domain":false,"title":null,"tickSize":-2.5,"values":[70,90,110,130,150,170]}},"y":{"datum":0.016,"type":"quantitative","axis":{"orient":"right","labels":false,"domain":false,"title":null,"tickSize":-2.5,"values":[0.005,0.006,0.007,0.008,0.009,0.02,0.03,0.04,0.05,0.06,0.07,0.08,0.09,0.2,0.3,0.4,0.5,0.6,0.7,0.8,0.9,2,3,4,5,6,7,8,9]}}}},
{"data":{"name":"lab"},"transform":[{"filter":"datum.p==1"}],"mark":{"type":"text","align":"left","baseline":"middle","fontSize":16,"dx":18},"encoding":{"x":{"datum":101.3,"type":"quantitative","axis":null},"y":{"datum":0.016,"type":"quantitative","axis":null},"text":{"field":"t"}}}]},
{"width":271,"height":195,"data":{"name":"d"},"transform":[{"filter":"datum.p==7"}],"resolve":{"axis":{"x":"independent","y":"independent"}},"layer":[
{"mark":{"type":"line","color":"black","strokeWidth":1,"interpolate":"monotone","clip":true},"encoding":{"x":{"field":"m","type":"quantitative","scale":{"domain":[60,170.6],"nice":false,"zero":false},"axis":{"orient":"bottom","labels":false,"title":null,"values":[60,80,100,120,140,160]}},"y":{"field":"f","type":"quantitative","scale":{"type":"log","domain":[0.005,10],"nice":false},"axis":{"orient":"left","labels":false,"title":null,"values":[0.01,0.1,1,10]}}}},
{"transform":[{"filter":"isValid(datum.y)"}],"mark":{"type":"point","shape":"circle","filled":false,"color":"black","opacity":1,"size":16,"strokeWidth":0.9,"clip":true},"encoding":{"x":{"field":"m","type":"quantitative","axis":{"orient":"top","labels":false,"title":null,"values":[60,80,100,120,140,160]}},"y":{"field":"y","type":"quantitative","axis":{"orient":"right","labels":false,"title":null,"values":[0.01,0.1,1,10]}}}},
{"data":{"name":"lab"},"transform":[{"filter":"datum.p==7"}],"mark":{"type":"text","text":"E","align":"left","baseline":"middle","fontSize":16},"encoding":{"x":{"datum":101.3,"type":"quantitative","axis":{"orient":"bottom","labels":false,"domain":false,"title":null,"tickSize":-2.5,"values":[70,90,110,130,150,170]}},"y":{"datum":0.016,"type":"quantitative","axis":{"orient":"left","labels":false,"domain":false,"title":null,"tickSize":-2.5,"values":[0.005,0.006,0.007,0.008,0.009,0.02,0.03,0.04,0.05,0.06,0.07,0.08,0.09,0.2,0.3,0.4,0.5,0.6,0.7,0.8,0.9,2,3,4,5,6,7,8,9]}}}},
{"data":{"name":"lab"},"transform":[{"filter":"datum.p==7"}],"mark":{"type":"text","text":"n","align":"left","baseline":"middle","fontSize":12,"dx":11,"dy":4},"encoding":{"x":{"datum":101.3,"type":"quantitative","axis":{"orient":"top","labels":false,"domain":false,"title":null,"tickSize":-2.5,"values":[70,90,110,130,150,170]}},"y":{"datum":0.016,"type":"quantitative","axis":{"orient":"right","labels":false,"domain":false,"title":null,"tickSize":-2.5,"values":[0.005,0.006,0.007,0.008,0.009,0.02,0.03,0.04,0.05,0.06,0.07,0.08,0.09,0.2,0.3,0.4,0.5,0.6,0.7,0.8,0.9,2,3,4,5,6,7,8,9]}}}},
{"data":{"name":"lab"},"transform":[{"filter":"datum.p==7"}],"mark":{"type":"text","align":"left","baseline":"middle","fontSize":16,"dx":18},"encoding":{"x":{"datum":101.3,"type":"quantitative","axis":null},"y":{"datum":0.016,"type":"quantitative","axis":null},"text":{"field":"t"}}}]},
{"width":263,"height":195,"data":{"name":"d"},"transform":[{"filter":"datum.p==13"}],"resolve":{"axis":{"x":"independent","y":"independent"}},"layer":[
{"mark":{"type":"line","color":"black","strokeWidth":1,"interpolate":"monotone","clip":true},"encoding":{"x":{"field":"m","type":"quantitative","scale":{"domain":[60,167.35],"nice":false,"zero":false},"axis":{"orient":"bottom","labels":false,"title":null,"values":[60,80,100,120,140,160]}},"y":{"field":"f","type":"quantitative","scale":{"type":"log","domain":[0.005,10],"nice":false},"axis":{"orient":"left","labels":false,"title":null,"values":[0.01,0.1,1,10]}}}},
{"transform":[{"filter":"isValid(datum.y)"}],"mark":{"type":"point","shape":"circle","filled":false,"color":"black","opacity":1,"size":16,"strokeWidth":0.9,"clip":true},"encoding":{"x":{"field":"m","type":"quantitative","axis":{"orient":"top","labels":false,"title":null,"values":[60,80,100,120,140,160]}},"y":{"field":"y","type":"quantitative","axis":null}}},
{"data":{"name":"lab"},"transform":[{"filter":"datum.p==13"}],"mark":{"type":"text","text":"E","align":"left","baseline":"middle","fontSize":16},"encoding":{"x":{"datum":101.3,"type":"quantitative","axis":{"orient":"bottom","labels":false,"domain":false,"title":null,"tickSize":-2.5,"values":[70,90,110,130,150]}},"y":{"datum":0.016,"type":"quantitative","axis":{"orient":"left","labels":false,"domain":false,"title":null,"tickSize":-2.5,"values":[0.005,0.006,0.007,0.008,0.009,0.02,0.03,0.04,0.05,0.06,0.07,0.08,0.09,0.2,0.3,0.4,0.5,0.6,0.7,0.8,0.9,2,3,4,5,6,7,8,9]}}}},
{"data":{"name":"lab"},"transform":[{"filter":"datum.p==13"}],"mark":{"type":"text","text":"n","align":"left","baseline":"middle","fontSize":12,"dx":11,"dy":4},"encoding":{"x":{"datum":101.3,"type":"quantitative","axis":{"orient":"top","labels":false,"domain":false,"title":null,"tickSize":-2.5,"values":[70,90,110,130,150]}},"y":{"datum":0.016,"type":"quantitative","axis":null}}},
{"data":{"name":"lab"},"transform":[{"filter":"datum.p==13"}],"mark":{"type":"text","align":"left","baseline":"middle","fontSize":16,"dx":18},"encoding":{"x":{"datum":101.3,"type":"quantitative","axis":null},"y":{"datum":0.016,"type":"quantitative","axis":null},"text":{"field":"t"}}}]},
{"width":272,"height":195,"data":{"name":"d"},"transform":[{"filter":"datum.p==2"}],"resolve":{"axis":{"x":"independent","y":"independent"}},"layer":[
{"mark":{"type":"line","color":"black","strokeWidth":1,"interpolate":"monotone","clip":true},"encoding":{"x":{"field":"m","type":"quantitative","scale":{"domain":[60,171],"nice":false,"zero":false},"axis":{"orient":"bottom","labels":false,"title":null,"values":[60,80,100,120,140,160]}},"y":{"field":"f","type":"quantitative","scale":{"type":"log","domain":[0.005,10],"nice":false},"axis":{"orient":"left","title":null,"values":[0.01,0.1,1,10]}}}},
{"transform":[{"filter":"isValid(datum.y)"}],"mark":{"type":"point","shape":"circle","filled":false,"color":"black","opacity":1,"size":16,"strokeWidth":0.9,"clip":true},"encoding":{"x":{"field":"m","type":"quantitative","axis":{"orient":"top","labels":false,"title":null,"values":[60,80,100,120,140,160]}},"y":{"field":"y","type":"quantitative","axis":{"orient":"right","labels":false,"title":null,"values":[0.01,0.1,1,10]}}}},
{"data":{"name":"lab"},"transform":[{"filter":"datum.p==2"}],"mark":{"type":"text","text":"E","align":"left","baseline":"middle","fontSize":16},"encoding":{"x":{"datum":101.3,"type":"quantitative","axis":{"orient":"bottom","labels":false,"domain":false,"title":null,"tickSize":-2.5,"values":[70,90,110,130,150,170]}},"y":{"datum":0.016,"type":"quantitative","axis":{"orient":"left","labels":false,"domain":false,"title":null,"tickSize":-2.5,"values":[0.005,0.006,0.007,0.008,0.009,0.02,0.03,0.04,0.05,0.06,0.07,0.08,0.09,0.2,0.3,0.4,0.5,0.6,0.7,0.8,0.9,2,3,4,5,6,7,8,9]}}}},
{"data":{"name":"lab"},"transform":[{"filter":"datum.p==2"}],"mark":{"type":"text","text":"n","align":"left","baseline":"middle","fontSize":12,"dx":11,"dy":4},"encoding":{"x":{"datum":101.3,"type":"quantitative","axis":{"orient":"top","labels":false,"domain":false,"title":null,"tickSize":-2.5,"values":[70,90,110,130,150,170]}},"y":{"datum":0.016,"type":"quantitative","axis":{"orient":"right","labels":false,"domain":false,"title":null,"tickSize":-2.5,"values":[0.005,0.006,0.007,0.008,0.009,0.02,0.03,0.04,0.05,0.06,0.07,0.08,0.09,0.2,0.3,0.4,0.5,0.6,0.7,0.8,0.9,2,3,4,5,6,7,8,9]}}}},
{"data":{"name":"lab"},"transform":[{"filter":"datum.p==2"}],"mark":{"type":"text","align":"left","baseline":"middle","fontSize":16,"dx":18},"encoding":{"x":{"datum":101.3,"type":"quantitative","axis":null},"y":{"datum":0.016,"type":"quantitative","axis":null},"text":{"field":"t"}}}]},
{"width":271,"height":195,"data":{"name":"d"},"transform":[{"filter":"datum.p==8"}],"resolve":{"axis":{"x":"independent","y":"independent"}},"layer":[
{"mark":{"type":"line","color":"black","strokeWidth":1,"interpolate":"monotone","clip":true},"encoding":{"x":{"field":"m","type":"quantitative","scale":{"domain":[60,170.6],"nice":false,"zero":false},"axis":{"orient":"bottom","labels":false,"title":null,"values":[60,80,100,120,140,160]}},"y":{"field":"f","type":"quantitative","scale":{"type":"log","domain":[0.005,10],"nice":false},"axis":{"orient":"left","labels":false,"title":null,"values":[0.01,0.1,1,10]}}}},
{"transform":[{"filter":"isValid(datum.y)"}],"mark":{"type":"point","shape":"circle","filled":false,"color":"black","opacity":1,"size":16,"strokeWidth":0.9,"clip":true},"encoding":{"x":{"field":"m","type":"quantitative","axis":{"orient":"top","labels":false,"title":null,"values":[60,80,100,120,140,160]}},"y":{"field":"y","type":"quantitative","axis":{"orient":"right","labels":false,"title":null,"values":[0.01,0.1,1,10]}}}},
{"data":{"name":"lab"},"transform":[{"filter":"datum.p==8"}],"mark":{"type":"text","text":"E","align":"left","baseline":"middle","fontSize":16},"encoding":{"x":{"datum":101.3,"type":"quantitative","axis":{"orient":"bottom","labels":false,"domain":false,"title":null,"tickSize":-2.5,"values":[70,90,110,130,150,170]}},"y":{"datum":0.016,"type":"quantitative","axis":{"orient":"left","labels":false,"domain":false,"title":null,"tickSize":-2.5,"values":[0.005,0.006,0.007,0.008,0.009,0.02,0.03,0.04,0.05,0.06,0.07,0.08,0.09,0.2,0.3,0.4,0.5,0.6,0.7,0.8,0.9,2,3,4,5,6,7,8,9]}}}},
{"data":{"name":"lab"},"transform":[{"filter":"datum.p==8"}],"mark":{"type":"text","text":"n","align":"left","baseline":"middle","fontSize":12,"dx":11,"dy":4},"encoding":{"x":{"datum":101.3,"type":"quantitative","axis":{"orient":"top","labels":false,"domain":false,"title":null,"tickSize":-2.5,"values":[70,90,110,130,150,170]}},"y":{"datum":0.016,"type":"quantitative","axis":{"orient":"right","labels":false,"domain":false,"title":null,"tickSize":-2.5,"values":[0.005,0.006,0.007,0.008,0.009,0.02,0.03,0.04,0.05,0.06,0.07,0.08,0.09,0.2,0.3,0.4,0.5,0.6,0.7,0.8,0.9,2,3,4,5,6,7,8,9]}}}},
{"data":{"name":"lab"},"transform":[{"filter":"datum.p==8"}],"mark":{"type":"text","align":"left","baseline":"middle","fontSize":16,"dx":18},"encoding":{"x":{"datum":101.3,"type":"quantitative","axis":null},"y":{"datum":0.016,"type":"quantitative","axis":null},"text":{"field":"t"}}}]},
{"width":263,"height":195,"data":{"name":"d"},"transform":[{"filter":"datum.p==14"}],"resolve":{"axis":{"x":"independent","y":"independent"}},"layer":[
{"mark":{"type":"line","color":"black","strokeWidth":1,"interpolate":"monotone","clip":true},"encoding":{"x":{"field":"m","type":"quantitative","scale":{"domain":[60,167.35],"nice":false,"zero":false},"axis":{"orient":"bottom","labels":false,"title":null,"values":[60,80,100,120,140,160]}},"y":{"field":"f","type":"quantitative","scale":{"type":"log","domain":[0.005,10],"nice":false},"axis":{"orient":"left","labels":false,"title":null,"values":[0.01,0.1,1,10]}}}},
{"transform":[{"filter":"isValid(datum.y)"}],"mark":{"type":"point","shape":"circle","filled":false,"color":"black","opacity":1,"size":16,"strokeWidth":0.9,"clip":true},"encoding":{"x":{"field":"m","type":"quantitative","axis":{"orient":"top","labels":false,"title":null,"values":[60,80,100,120,140,160]}},"y":{"field":"y","type":"quantitative","axis":null}}},
{"data":{"name":"lab"},"transform":[{"filter":"datum.p==14"}],"mark":{"type":"text","text":"E","align":"left","baseline":"middle","fontSize":16},"encoding":{"x":{"datum":101.3,"type":"quantitative","axis":{"orient":"bottom","labels":false,"domain":false,"title":null,"tickSize":-2.5,"values":[70,90,110,130,150]}},"y":{"datum":0.016,"type":"quantitative","axis":{"orient":"left","labels":false,"domain":false,"title":null,"tickSize":-2.5,"values":[0.005,0.006,0.007,0.008,0.009,0.02,0.03,0.04,0.05,0.06,0.07,0.08,0.09,0.2,0.3,0.4,0.5,0.6,0.7,0.8,0.9,2,3,4,5,6,7,8,9]}}}},
{"data":{"name":"lab"},"transform":[{"filter":"datum.p==14"}],"mark":{"type":"text","text":"n","align":"left","baseline":"middle","fontSize":12,"dx":11,"dy":4},"encoding":{"x":{"datum":101.3,"type":"quantitative","axis":{"orient":"top","labels":false,"domain":false,"title":null,"tickSize":-2.5,"values":[70,90,110,130,150]}},"y":{"datum":0.016,"type":"quantitative","axis":null}}},
{"data":{"name":"lab"},"transform":[{"filter":"datum.p==14"}],"mark":{"type":"text","align":"left","baseline":"middle","fontSize":16,"dx":18},"encoding":{"x":{"datum":101.3,"type":"quantitative","axis":null},"y":{"datum":0.016,"type":"quantitative","axis":null},"text":{"field":"t"}}}]},
{"width":272,"height":195,"data":{"name":"d"},"transform":[{"filter":"datum.p==3"}],"resolve":{"axis":{"x":"independent","y":"independent"}},"layer":[
{"mark":{"type":"line","color":"black","strokeWidth":1,"interpolate":"monotone","clip":true},"encoding":{"x":{"field":"m","type":"quantitative","scale":{"domain":[60,171],"nice":false,"zero":false},"axis":{"orient":"bottom","labels":false,"title":null,"values":[60,80,100,120,140,160]}},"y":{"field":"f","type":"quantitative","scale":{"type":"log","domain":[0.005,10],"nice":false},"axis":{"orient":"left","title":null,"values":[0.01,0.1,1,10]}}}},
{"transform":[{"filter":"isValid(datum.y)"}],"mark":{"type":"point","shape":"circle","filled":false,"color":"black","opacity":1,"size":16,"strokeWidth":0.9,"clip":true},"encoding":{"x":{"field":"m","type":"quantitative","axis":{"orient":"top","labels":false,"title":null,"values":[60,80,100,120,140,160]}},"y":{"field":"y","type":"quantitative","axis":{"orient":"right","labels":false,"title":null,"values":[0.01,0.1,1,10]}}}},
{"data":{"name":"lab"},"transform":[{"filter":"datum.p==3"}],"mark":{"type":"text","text":"E","align":"left","baseline":"middle","fontSize":16},"encoding":{"x":{"datum":101.3,"type":"quantitative","axis":{"orient":"bottom","labels":false,"domain":false,"title":null,"tickSize":-2.5,"values":[70,90,110,130,150,170]}},"y":{"datum":0.016,"type":"quantitative","axis":{"orient":"left","labels":false,"domain":false,"title":null,"tickSize":-2.5,"values":[0.005,0.006,0.007,0.008,0.009,0.02,0.03,0.04,0.05,0.06,0.07,0.08,0.09,0.2,0.3,0.4,0.5,0.6,0.7,0.8,0.9,2,3,4,5,6,7,8,9]}}}},
{"data":{"name":"lab"},"transform":[{"filter":"datum.p==3"}],"mark":{"type":"text","text":"n","align":"left","baseline":"middle","fontSize":12,"dx":11,"dy":4},"encoding":{"x":{"datum":101.3,"type":"quantitative","axis":{"orient":"top","labels":false,"domain":false,"title":null,"tickSize":-2.5,"values":[70,90,110,130,150,170]}},"y":{"datum":0.016,"type":"quantitative","axis":{"orient":"right","labels":false,"domain":false,"title":null,"tickSize":-2.5,"values":[0.005,0.006,0.007,0.008,0.009,0.02,0.03,0.04,0.05,0.06,0.07,0.08,0.09,0.2,0.3,0.4,0.5,0.6,0.7,0.8,0.9,2,3,4,5,6,7,8,9]}}}},
{"data":{"name":"lab"},"transform":[{"filter":"datum.p==3"}],"mark":{"type":"text","align":"left","baseline":"middle","fontSize":16,"dx":18},"encoding":{"x":{"datum":101.3,"type":"quantitative","axis":null},"y":{"datum":0.016,"type":"quantitative","axis":null},"text":{"field":"t"}}}]},
{"width":271,"height":195,"data":{"name":"d"},"transform":[{"filter":"datum.p==9"}],"resolve":{"axis":{"x":"independent","y":"independent"}},"layer":[
{"mark":{"type":"line","color":"black","strokeWidth":1,"interpolate":"monotone","clip":true},"encoding":{"x":{"field":"m","type":"quantitative","scale":{"domain":[60,170.6],"nice":false,"zero":false},"axis":{"orient":"bottom","labels":false,"title":null,"values":[60,80,100,120,140,160]}},"y":{"field":"f","type":"quantitative","scale":{"type":"log","domain":[0.005,10],"nice":false},"axis":{"orient":"left","labels":false,"title":null,"values":[0.01,0.1,1,10]}}}},
{"transform":[{"filter":"isValid(datum.y)"}],"mark":{"type":"point","shape":"circle","filled":false,"color":"black","opacity":1,"size":16,"strokeWidth":0.9,"clip":true},"encoding":{"x":{"field":"m","type":"quantitative","axis":{"orient":"top","labels":false,"title":null,"values":[60,80,100,120,140,160]}},"y":{"field":"y","type":"quantitative","axis":{"orient":"right","labels":false,"title":null,"values":[0.01,0.1,1,10]}}}},
{"data":{"name":"lab"},"transform":[{"filter":"datum.p==9"}],"mark":{"type":"text","text":"E","align":"left","baseline":"middle","fontSize":16},"encoding":{"x":{"datum":101.3,"type":"quantitative","axis":{"orient":"bottom","labels":false,"domain":false,"title":null,"tickSize":-2.5,"values":[70,90,110,130,150,170]}},"y":{"datum":0.016,"type":"quantitative","axis":{"orient":"left","labels":false,"domain":false,"title":null,"tickSize":-2.5,"values":[0.005,0.006,0.007,0.008,0.009,0.02,0.03,0.04,0.05,0.06,0.07,0.08,0.09,0.2,0.3,0.4,0.5,0.6,0.7,0.8,0.9,2,3,4,5,6,7,8,9]}}}},
{"data":{"name":"lab"},"transform":[{"filter":"datum.p==9"}],"mark":{"type":"text","text":"n","align":"left","baseline":"middle","fontSize":12,"dx":11,"dy":4},"encoding":{"x":{"datum":101.3,"type":"quantitative","axis":{"orient":"top","labels":false,"domain":false,"title":null,"tickSize":-2.5,"values":[70,90,110,130,150,170]}},"y":{"datum":0.016,"type":"quantitative","axis":{"orient":"right","labels":false,"domain":false,"title":null,"tickSize":-2.5,"values":[0.005,0.006,0.007,0.008,0.009,0.02,0.03,0.04,0.05,0.06,0.07,0.08,0.09,0.2,0.3,0.4,0.5,0.6,0.7,0.8,0.9,2,3,4,5,6,7,8,9]}}}},
{"data":{"name":"lab"},"transform":[{"filter":"datum.p==9"}],"mark":{"type":"text","align":"left","baseline":"middle","fontSize":16,"dx":18},"encoding":{"x":{"datum":101.3,"type":"quantitative","axis":null},"y":{"datum":0.016,"type":"quantitative","axis":null},"text":{"field":"t"}}}]},
{"width":263,"height":195,"data":{"name":"d"},"transform":[{"filter":"datum.p==15"}],"resolve":{"axis":{"x":"independent","y":"independent"}},"layer":[
{"mark":{"type":"line","color":"black","strokeWidth":1,"interpolate":"monotone","clip":true},"encoding":{"x":{"field":"m","type":"quantitative","scale":{"domain":[60,167.35],"nice":false,"zero":false},"axis":{"orient":"bottom","labels":false,"title":null,"values":[60,80,100,120,140,160]}},"y":{"field":"f","type":"quantitative","scale":{"type":"log","domain":[0.005,10],"nice":false},"axis":{"orient":"left","labels":false,"title":null,"values":[0.01,0.1,1,10]}}}},
{"transform":[{"filter":"isValid(datum.y)"}],"mark":{"type":"point","shape":"circle","filled":false,"color":"black","opacity":1,"size":16,"strokeWidth":0.9,"clip":true},"encoding":{"x":{"field":"m","type":"quantitative","axis":{"orient":"top","labels":false,"title":null,"values":[60,80,100,120,140,160]}},"y":{"field":"y","type":"quantitative","axis":null}}},
{"data":{"name":"lab"},"transform":[{"filter":"datum.p==15"}],"mark":{"type":"text","text":"E","align":"left","baseline":"middle","fontSize":16},"encoding":{"x":{"datum":101.3,"type":"quantitative","axis":{"orient":"bottom","labels":false,"domain":false,"title":null,"tickSize":-2.5,"values":[70,90,110,130,150]}},"y":{"datum":0.016,"type":"quantitative","axis":{"orient":"left","labels":false,"domain":false,"title":null,"tickSize":-2.5,"values":[0.005,0.006,0.007,0.008,0.009,0.02,0.03,0.04,0.05,0.06,0.07,0.08,0.09,0.2,0.3,0.4,0.5,0.6,0.7,0.8,0.9,2,3,4,5,6,7,8,9]}}}},
{"data":{"name":"lab"},"transform":[{"filter":"datum.p==15"}],"mark":{"type":"text","text":"n","align":"left","baseline":"middle","fontSize":12,"dx":11,"dy":4},"encoding":{"x":{"datum":101.3,"type":"quantitative","axis":{"orient":"top","labels":false,"domain":false,"title":null,"tickSize":-2.5,"values":[70,90,110,130,150]}},"y":{"datum":0.016,"type":"quantitative","axis":null}}},
{"data":{"name":"lab"},"transform":[{"filter":"datum.p==15"}],"mark":{"type":"text","align":"left","baseline":"middle","fontSize":16,"dx":18},"encoding":{"x":{"datum":101.3,"type":"quantitative","axis":null},"y":{"datum":0.016,"type":"quantitative","axis":null},"text":{"field":"t"}}}]},
{"width":272,"height":195,"data":{"name":"d"},"transform":[{"filter":"datum.p==4"}],"resolve":{"axis":{"x":"independent","y":"independent"}},"layer":[
{"mark":{"type":"line","color":"black","strokeWidth":1,"interpolate":"monotone","clip":true},"encoding":{"x":{"field":"m","type":"quantitative","scale":{"domain":[60,171],"nice":false,"zero":false},"axis":{"orient":"bottom","labels":false,"title":null,"values":[60,80,100,120,140,160]}},"y":{"field":"f","type":"quantitative","scale":{"type":"log","domain":[0.005,10],"nice":false},"axis":{"orient":"left","title":"Yield","titleX":-59,"titleY":17,"titleAngle":-90,"titleAlign":"center","titleBaseline":"middle","values":[0.01,0.1,1,10]}}}},
{"transform":[{"filter":"isValid(datum.y)"}],"mark":{"type":"point","shape":"circle","filled":false,"color":"black","opacity":1,"size":16,"strokeWidth":0.9,"clip":true},"encoding":{"x":{"field":"m","type":"quantitative","axis":{"orient":"top","labels":false,"title":null,"values":[60,80,100,120,140,160]}},"y":{"field":"y","type":"quantitative","axis":{"orient":"right","labels":false,"title":null,"values":[0.01,0.1,1,10]}}}},
{"data":{"name":"lab"},"transform":[{"filter":"datum.p==4"}],"mark":{"type":"text","text":"E","align":"left","baseline":"middle","fontSize":16},"encoding":{"x":{"datum":101.3,"type":"quantitative","axis":{"orient":"bottom","labels":false,"domain":false,"title":null,"tickSize":-2.5,"values":[70,90,110,130,150,170]}},"y":{"datum":0.016,"type":"quantitative","axis":{"orient":"left","labels":false,"domain":false,"title":null,"tickSize":-2.5,"values":[0.005,0.006,0.007,0.008,0.009,0.02,0.03,0.04,0.05,0.06,0.07,0.08,0.09,0.2,0.3,0.4,0.5,0.6,0.7,0.8,0.9,2,3,4,5,6,7,8,9]}}}},
{"data":{"name":"lab"},"transform":[{"filter":"datum.p==4"}],"mark":{"type":"text","text":"n","align":"left","baseline":"middle","fontSize":12,"dx":11,"dy":4},"encoding":{"x":{"datum":101.3,"type":"quantitative","axis":{"orient":"top","labels":false,"domain":false,"title":null,"tickSize":-2.5,"values":[70,90,110,130,150,170]}},"y":{"datum":0.016,"type":"quantitative","axis":{"orient":"right","labels":false,"domain":false,"title":null,"tickSize":-2.5,"values":[0.005,0.006,0.007,0.008,0.009,0.02,0.03,0.04,0.05,0.06,0.07,0.08,0.09,0.2,0.3,0.4,0.5,0.6,0.7,0.8,0.9,2,3,4,5,6,7,8,9]}}}},
{"data":{"name":"lab"},"transform":[{"filter":"datum.p==4"}],"mark":{"type":"text","align":"left","baseline":"middle","fontSize":16,"dx":18},"encoding":{"x":{"datum":101.3,"type":"quantitative","axis":null},"y":{"datum":0.016,"type":"quantitative","axis":null},"text":{"field":"t"}}}]},
{"width":271,"height":195,"data":{"name":"d"},"transform":[{"filter":"datum.p==10"}],"resolve":{"axis":{"x":"independent","y":"independent"}},"layer":[
{"mark":{"type":"line","color":"black","strokeWidth":1,"interpolate":"monotone","clip":true},"encoding":{"x":{"field":"m","type":"quantitative","scale":{"domain":[60,170.6],"nice":false,"zero":false},"axis":{"orient":"bottom","labels":false,"title":null,"values":[60,80,100,120,140,160]}},"y":{"field":"f","type":"quantitative","scale":{"type":"log","domain":[0.005,10],"nice":false},"axis":{"orient":"left","labels":false,"title":null,"values":[0.01,0.1,1,10]}}}},
{"transform":[{"filter":"isValid(datum.y)"}],"mark":{"type":"point","shape":"circle","filled":false,"color":"black","opacity":1,"size":16,"strokeWidth":0.9,"clip":true},"encoding":{"x":{"field":"m","type":"quantitative","axis":{"orient":"top","labels":false,"title":null,"values":[60,80,100,120,140,160]}},"y":{"field":"y","type":"quantitative","axis":{"orient":"right","labels":false,"title":null,"values":[0.01,0.1,1,10]}}}},
{"data":{"name":"lab"},"transform":[{"filter":"datum.p==10"}],"mark":{"type":"text","text":"E","align":"left","baseline":"middle","fontSize":16},"encoding":{"x":{"datum":101.3,"type":"quantitative","axis":{"orient":"bottom","labels":false,"domain":false,"title":null,"tickSize":-2.5,"values":[70,90,110,130,150,170]}},"y":{"datum":0.016,"type":"quantitative","axis":{"orient":"left","labels":false,"domain":false,"title":null,"tickSize":-2.5,"values":[0.005,0.006,0.007,0.008,0.009,0.02,0.03,0.04,0.05,0.06,0.07,0.08,0.09,0.2,0.3,0.4,0.5,0.6,0.7,0.8,0.9,2,3,4,5,6,7,8,9]}}}},
{"data":{"name":"lab"},"transform":[{"filter":"datum.p==10"}],"mark":{"type":"text","text":"n","align":"left","baseline":"middle","fontSize":12,"dx":11,"dy":4},"encoding":{"x":{"datum":101.3,"type":"quantitative","axis":{"orient":"top","labels":false,"domain":false,"title":null,"tickSize":-2.5,"values":[70,90,110,130,150,170]}},"y":{"datum":0.016,"type":"quantitative","axis":{"orient":"right","labels":false,"domain":false,"title":null,"tickSize":-2.5,"values":[0.005,0.006,0.007,0.008,0.009,0.02,0.03,0.04,0.05,0.06,0.07,0.08,0.09,0.2,0.3,0.4,0.5,0.6,0.7,0.8,0.9,2,3,4,5,6,7,8,9]}}}},
{"data":{"name":"lab"},"transform":[{"filter":"datum.p==10"}],"mark":{"type":"text","align":"left","baseline":"middle","fontSize":16,"dx":18},"encoding":{"x":{"datum":101.3,"type":"quantitative","axis":null},"y":{"datum":0.016,"type":"quantitative","axis":null},"text":{"field":"t"}}}]},
{"width":263,"height":195,"data":{"name":"d"},"transform":[{"filter":"datum.p==16"}],"resolve":{"axis":{"x":"independent","y":"independent"}},"layer":[
{"mark":{"type":"line","color":"black","strokeWidth":1,"interpolate":"monotone","clip":true},"encoding":{"x":{"field":"m","type":"quantitative","scale":{"domain":[60,167.35],"nice":false,"zero":false},"axis":{"orient":"bottom","labels":false,"title":null,"values":[60,80,100,120,140,160]}},"y":{"field":"f","type":"quantitative","scale":{"type":"log","domain":[0.005,10],"nice":false},"axis":{"orient":"left","labels":false,"title":null,"values":[0.01,0.1,1,10]}}}},
{"transform":[{"filter":"isValid(datum.y)"}],"mark":{"type":"point","shape":"circle","filled":false,"color":"black","opacity":1,"size":16,"strokeWidth":0.9,"clip":true},"encoding":{"x":{"field":"m","type":"quantitative","axis":{"orient":"top","labels":false,"title":null,"values":[60,80,100,120,140,160]}},"y":{"field":"y","type":"quantitative","axis":null}}},
{"data":{"name":"lab"},"transform":[{"filter":"datum.p==16"}],"mark":{"type":"text","text":"E","align":"left","baseline":"middle","fontSize":16},"encoding":{"x":{"datum":101.3,"type":"quantitative","axis":{"orient":"bottom","labels":false,"domain":false,"title":null,"tickSize":-2.5,"values":[70,90,110,130,150]}},"y":{"datum":0.016,"type":"quantitative","axis":{"orient":"left","labels":false,"domain":false,"title":null,"tickSize":-2.5,"values":[0.005,0.006,0.007,0.008,0.009,0.02,0.03,0.04,0.05,0.06,0.07,0.08,0.09,0.2,0.3,0.4,0.5,0.6,0.7,0.8,0.9,2,3,4,5,6,7,8,9]}}}},
{"data":{"name":"lab"},"transform":[{"filter":"datum.p==16"}],"mark":{"type":"text","text":"n","align":"left","baseline":"middle","fontSize":12,"dx":11,"dy":4},"encoding":{"x":{"datum":101.3,"type":"quantitative","axis":{"orient":"top","labels":false,"domain":false,"title":null,"tickSize":-2.5,"values":[70,90,110,130,150]}},"y":{"datum":0.016,"type":"quantitative","axis":null}}},
{"data":{"name":"lab"},"transform":[{"filter":"datum.p==16"}],"mark":{"type":"text","align":"left","baseline":"middle","fontSize":16,"dx":18},"encoding":{"x":{"datum":101.3,"type":"quantitative","axis":null},"y":{"datum":0.016,"type":"quantitative","axis":null},"text":{"field":"t"}}}]},
{"width":272,"height":195,"data":{"name":"d"},"transform":[{"filter":"datum.p==5"}],"resolve":{"axis":{"x":"independent","y":"independent"}},"layer":[
{"mark":{"type":"line","color":"black","strokeWidth":1,"interpolate":"monotone","clip":true},"encoding":{"x":{"field":"m","type":"quantitative","scale":{"domain":[60,171],"nice":false,"zero":false},"axis":{"orient":"bottom","labels":false,"title":null,"values":[60,80,100,120,140,160]}},"y":{"field":"f","type":"quantitative","scale":{"type":"log","domain":[0.005,10],"nice":false},"axis":{"orient":"left","title":null,"values":[0.01,0.1,1,10]}}}},
{"transform":[{"filter":"isValid(datum.y)"}],"mark":{"type":"point","shape":"circle","filled":false,"color":"black","opacity":1,"size":16,"strokeWidth":0.9,"clip":true},"encoding":{"x":{"field":"m","type":"quantitative","axis":{"orient":"top","labels":false,"title":null,"values":[60,80,100,120,140,160]}},"y":{"field":"y","type":"quantitative","axis":{"orient":"right","labels":false,"title":null,"values":[0.01,0.1,1,10]}}}},
{"data":{"name":"lab"},"transform":[{"filter":"datum.p==5"}],"mark":{"type":"text","text":"E","align":"left","baseline":"middle","fontSize":16},"encoding":{"x":{"datum":101.3,"type":"quantitative","axis":{"orient":"bottom","labels":false,"domain":false,"title":null,"tickSize":-2.5,"values":[70,90,110,130,150,170]}},"y":{"datum":0.016,"type":"quantitative","axis":{"orient":"left","labels":false,"domain":false,"title":null,"tickSize":-2.5,"values":[0.005,0.006,0.007,0.008,0.009,0.02,0.03,0.04,0.05,0.06,0.07,0.08,0.09,0.2,0.3,0.4,0.5,0.6,0.7,0.8,0.9,2,3,4,5,6,7,8,9]}}}},
{"data":{"name":"lab"},"transform":[{"filter":"datum.p==5"}],"mark":{"type":"text","text":"n","align":"left","baseline":"middle","fontSize":12,"dx":11,"dy":4},"encoding":{"x":{"datum":101.3,"type":"quantitative","axis":{"orient":"top","labels":false,"domain":false,"title":null,"tickSize":-2.5,"values":[70,90,110,130,150,170]}},"y":{"datum":0.016,"type":"quantitative","axis":{"orient":"right","labels":false,"domain":false,"title":null,"tickSize":-2.5,"values":[0.005,0.006,0.007,0.008,0.009,0.02,0.03,0.04,0.05,0.06,0.07,0.08,0.09,0.2,0.3,0.4,0.5,0.6,0.7,0.8,0.9,2,3,4,5,6,7,8,9]}}}},
{"data":{"name":"lab"},"transform":[{"filter":"datum.p==5"}],"mark":{"type":"text","align":"left","baseline":"middle","fontSize":16,"dx":18},"encoding":{"x":{"datum":101.3,"type":"quantitative","axis":null},"y":{"datum":0.016,"type":"quantitative","axis":null},"text":{"field":"t"}}}]},
{"width":271,"height":195,"data":{"name":"d"},"transform":[{"filter":"datum.p==11"}],"resolve":{"axis":{"x":"independent","y":"independent"}},"layer":[
{"mark":{"type":"line","color":"black","strokeWidth":1,"interpolate":"monotone","clip":true},"encoding":{"x":{"field":"m","type":"quantitative","scale":{"domain":[60,170.6],"nice":false,"zero":false},"axis":{"orient":"bottom","labels":false,"title":null,"values":[60,80,100,120,140,160]}},"y":{"field":"f","type":"quantitative","scale":{"type":"log","domain":[0.005,10],"nice":false},"axis":{"orient":"left","labels":false,"title":null,"values":[0.01,0.1,1,10]}}}},
{"transform":[{"filter":"isValid(datum.y)"}],"mark":{"type":"point","shape":"circle","filled":false,"color":"black","opacity":1,"size":16,"strokeWidth":0.9,"clip":true},"encoding":{"x":{"field":"m","type":"quantitative","axis":{"orient":"top","labels":false,"title":null,"values":[60,80,100,120,140,160]}},"y":{"field":"y","type":"quantitative","axis":{"orient":"right","labels":false,"title":null,"values":[0.01,0.1,1,10]}}}},
{"data":{"name":"lab"},"transform":[{"filter":"datum.p==11"}],"mark":{"type":"text","text":"E","align":"left","baseline":"middle","fontSize":16},"encoding":{"x":{"datum":101.3,"type":"quantitative","axis":{"orient":"bottom","labels":false,"domain":false,"title":null,"tickSize":-2.5,"values":[70,90,110,130,150,170]}},"y":{"datum":0.016,"type":"quantitative","axis":{"orient":"left","labels":false,"domain":false,"title":null,"tickSize":-2.5,"values":[0.005,0.006,0.007,0.008,0.009,0.02,0.03,0.04,0.05,0.06,0.07,0.08,0.09,0.2,0.3,0.4,0.5,0.6,0.7,0.8,0.9,2,3,4,5,6,7,8,9]}}}},
{"data":{"name":"lab"},"transform":[{"filter":"datum.p==11"}],"mark":{"type":"text","text":"n","align":"left","baseline":"middle","fontSize":12,"dx":11,"dy":4},"encoding":{"x":{"datum":101.3,"type":"quantitative","axis":{"orient":"top","labels":false,"domain":false,"title":null,"tickSize":-2.5,"values":[70,90,110,130,150,170]}},"y":{"datum":0.016,"type":"quantitative","axis":{"orient":"right","labels":false,"domain":false,"title":null,"tickSize":-2.5,"values":[0.005,0.006,0.007,0.008,0.009,0.02,0.03,0.04,0.05,0.06,0.07,0.08,0.09,0.2,0.3,0.4,0.5,0.6,0.7,0.8,0.9,2,3,4,5,6,7,8,9]}}}},
{"data":{"name":"lab"},"transform":[{"filter":"datum.p==11"}],"mark":{"type":"text","align":"left","baseline":"middle","fontSize":16,"dx":18},"encoding":{"x":{"datum":101.3,"type":"quantitative","axis":null},"y":{"datum":0.016,"type":"quantitative","axis":null},"text":{"field":"t"}}}]},
{"width":263,"height":195,"data":{"name":"d"},"transform":[{"filter":"datum.p==17"}],"resolve":{"axis":{"x":"independent","y":"independent"}},"layer":[
{"mark":{"type":"line","color":"black","strokeWidth":1,"interpolate":"monotone","clip":true},"encoding":{"x":{"field":"m","type":"quantitative","scale":{"domain":[60,167.35],"nice":false,"zero":false},"axis":{"orient":"bottom","labels":false,"title":null,"values":[60,80,100,120,140,160]}},"y":{"field":"f","type":"quantitative","scale":{"type":"log","domain":[0.005,10],"nice":false},"axis":{"orient":"left","labels":false,"title":null,"values":[0.01,0.1,1,10]}}}},
{"transform":[{"filter":"isValid(datum.y)"}],"mark":{"type":"point","shape":"circle","filled":false,"color":"black","opacity":1,"size":16,"strokeWidth":0.9,"clip":true},"encoding":{"x":{"field":"m","type":"quantitative","axis":{"orient":"top","labels":false,"title":null,"values":[60,80,100,120,140,160]}},"y":{"field":"y","type":"quantitative","axis":null}}},
{"data":{"name":"lab"},"transform":[{"filter":"datum.p==17"}],"mark":{"type":"text","text":"E","align":"left","baseline":"middle","fontSize":16},"encoding":{"x":{"datum":101.3,"type":"quantitative","axis":{"orient":"bottom","labels":false,"domain":false,"title":null,"tickSize":-2.5,"values":[70,90,110,130,150]}},"y":{"datum":0.016,"type":"quantitative","axis":{"orient":"left","labels":false,"domain":false,"title":null,"tickSize":-2.5,"values":[0.005,0.006,0.007,0.008,0.009,0.02,0.03,0.04,0.05,0.06,0.07,0.08,0.09,0.2,0.3,0.4,0.5,0.6,0.7,0.8,0.9,2,3,4,5,6,7,8,9]}}}},
{"data":{"name":"lab"},"transform":[{"filter":"datum.p==17"}],"mark":{"type":"text","text":"n","align":"left","baseline":"middle","fontSize":12,"dx":11,"dy":4},"encoding":{"x":{"datum":101.3,"type":"quantitative","axis":{"orient":"top","labels":false,"domain":false,"title":null,"tickSize":-2.5,"values":[70,90,110,130,150]}},"y":{"datum":0.016,"type":"quantitative","axis":null}}},
{"data":{"name":"lab"},"transform":[{"filter":"datum.p==17"}],"mark":{"type":"text","align":"left","baseline":"middle","fontSize":16,"dx":18},"encoding":{"x":{"datum":101.3,"type":"quantitative","axis":null},"y":{"datum":0.016,"type":"quantitative","axis":null},"text":{"field":"t"}}}]},
{"width":272,"height":195,"data":{"name":"d"},"transform":[{"filter":"datum.p==6"}],"resolve":{"axis":{"x":"independent","y":"independent"}},"layer":[
{"mark":{"type":"line","color":"black","strokeWidth":1,"interpolate":"monotone","clip":true},"encoding":{"x":{"field":"m","type":"quantitative","scale":{"domain":[60,171],"nice":false,"zero":false},"axis":{"orient":"bottom","title":null,"values":[60,80,100,120,140,160]}},"y":{"field":"f","type":"quantitative","scale":{"type":"log","domain":[0.005,10],"nice":false},"axis":{"orient":"left","title":null,"values":[0.01,0.1,1,10]}}}},
{"transform":[{"filter":"isValid(datum.y)"}],"mark":{"type":"point","shape":"circle","filled":false,"color":"black","opacity":1,"size":16,"strokeWidth":0.9,"clip":true},"encoding":{"x":{"field":"m","type":"quantitative","axis":{"orient":"top","labels":false,"title":null,"values":[60,80,100,120,140,160]}},"y":{"field":"y","type":"quantitative","axis":{"orient":"right","labels":false,"title":null,"values":[0.01,0.1,1,10]}}}},
{"data":{"name":"lab"},"transform":[{"filter":"datum.p==6"}],"mark":{"type":"text","text":"E","align":"left","baseline":"middle","fontSize":16},"encoding":{"x":{"datum":101.3,"type":"quantitative","axis":{"orient":"bottom","labels":false,"domain":false,"title":null,"tickSize":-2.5,"values":[70,90,110,130,150,170]}},"y":{"datum":0.016,"type":"quantitative","axis":{"orient":"left","labels":false,"domain":false,"title":null,"tickSize":-2.5,"values":[0.005,0.006,0.007,0.008,0.009,0.02,0.03,0.04,0.05,0.06,0.07,0.08,0.09,0.2,0.3,0.4,0.5,0.6,0.7,0.8,0.9,2,3,4,5,6,7,8,9]}}}},
{"data":{"name":"lab"},"transform":[{"filter":"datum.p==6"}],"mark":{"type":"text","text":"n","align":"left","baseline":"middle","fontSize":12,"dx":11,"dy":4},"encoding":{"x":{"datum":101.3,"type":"quantitative","axis":{"orient":"top","labels":false,"domain":false,"title":null,"tickSize":-2.5,"values":[70,90,110,130,150,170]}},"y":{"datum":0.016,"type":"quantitative","axis":{"orient":"right","labels":false,"domain":false,"title":null,"tickSize":-2.5,"values":[0.005,0.006,0.007,0.008,0.009,0.02,0.03,0.04,0.05,0.06,0.07,0.08,0.09,0.2,0.3,0.4,0.5,0.6,0.7,0.8,0.9,2,3,4,5,6,7,8,9]}}}},
{"data":{"name":"lab"},"transform":[{"filter":"datum.p==6"}],"mark":{"type":"text","align":"left","baseline":"middle","fontSize":16,"dx":18},"encoding":{"x":{"datum":101.3,"type":"quantitative","axis":null},"y":{"datum":0.016,"type":"quantitative","axis":null},"text":{"field":"t"}}}]},
{"width":271,"height":195,"data":{"name":"d"},"transform":[{"filter":"datum.p==12"}],"resolve":{"axis":{"x":"independent","y":"independent"}},"layer":[
{"mark":{"type":"line","color":"black","strokeWidth":1,"interpolate":"monotone","clip":true},"encoding":{"x":{"field":"m","type":"quantitative","scale":{"domain":[60,170.6],"nice":false,"zero":false},"axis":{"orient":"bottom","title":"Mass","titleY":42,"titleBaseline":"middle","values":[60,80,100,120,140,160]}},"y":{"field":"f","type":"quantitative","scale":{"type":"log","domain":[0.005,10],"nice":false},"axis":{"orient":"left","labels":false,"title":null,"values":[0.01,0.1,1,10]}}}},
{"transform":[{"filter":"isValid(datum.y)"}],"mark":{"type":"point","shape":"circle","filled":false,"color":"black","opacity":1,"size":16,"strokeWidth":0.9,"clip":true},"encoding":{"x":{"field":"m","type":"quantitative","axis":{"orient":"top","labels":false,"title":null,"values":[60,80,100,120,140,160]}},"y":{"field":"y","type":"quantitative","axis":{"orient":"right","labels":false,"title":null,"values":[0.01,0.1,1,10]}}}},
{"data":{"name":"lab"},"transform":[{"filter":"datum.p==12"}],"mark":{"type":"text","text":"E","align":"left","baseline":"middle","fontSize":16},"encoding":{"x":{"datum":101.3,"type":"quantitative","axis":{"orient":"bottom","labels":false,"domain":false,"title":null,"tickSize":-2.5,"values":[70,90,110,130,150,170]}},"y":{"datum":0.016,"type":"quantitative","axis":{"orient":"left","labels":false,"domain":false,"title":null,"tickSize":-2.5,"values":[0.005,0.006,0.007,0.008,0.009,0.02,0.03,0.04,0.05,0.06,0.07,0.08,0.09,0.2,0.3,0.4,0.5,0.6,0.7,0.8,0.9,2,3,4,5,6,7,8,9]}}}},
{"data":{"name":"lab"},"transform":[{"filter":"datum.p==12"}],"mark":{"type":"text","text":"n","align":"left","baseline":"middle","fontSize":12,"dx":11,"dy":4},"encoding":{"x":{"datum":101.3,"type":"quantitative","axis":{"orient":"top","labels":false,"domain":false,"title":null,"tickSize":-2.5,"values":[70,90,110,130,150,170]}},"y":{"datum":0.016,"type":"quantitative","axis":{"orient":"right","labels":false,"domain":false,"title":null,"tickSize":-2.5,"values":[0.005,0.006,0.007,0.008,0.009,0.02,0.03,0.04,0.05,0.06,0.07,0.08,0.09,0.2,0.3,0.4,0.5,0.6,0.7,0.8,0.9,2,3,4,5,6,7,8,9]}}}},
{"data":{"name":"lab"},"transform":[{"filter":"datum.p==12"}],"mark":{"type":"text","align":"left","baseline":"middle","fontSize":16,"dx":18},"encoding":{"x":{"datum":101.3,"type":"quantitative","axis":null},"y":{"datum":0.016,"type":"quantitative","axis":null},"text":{"field":"t"}}}]},
{"width":263,"height":195,"data":{"name":"d"},"transform":[{"filter":"datum.p==18"}],"resolve":{"axis":{"x":"independent","y":"independent"}},"layer":[
{"mark":{"type":"line","color":"black","strokeWidth":1,"interpolate":"monotone","clip":true},"encoding":{"x":{"field":"m","type":"quantitative","scale":{"domain":[60,167.35],"nice":false,"zero":false},"axis":{"orient":"bottom","title":null,"values":[60,80,100,120,140,160]}},"y":{"field":"f","type":"quantitative","scale":{"type":"log","domain":[0.005,10],"nice":false},"axis":{"orient":"left","labels":false,"title":null,"values":[0.01,0.1,1,10]}}}},
{"transform":[{"filter":"isValid(datum.y)"}],"mark":{"type":"point","shape":"circle","filled":false,"color":"black","opacity":1,"size":16,"strokeWidth":0.9,"clip":true},"encoding":{"x":{"field":"m","type":"quantitative","axis":{"orient":"top","labels":false,"title":null,"values":[60,80,100,120,140,160]}},"y":{"field":"y","type":"quantitative","axis":null}}},
{"data":{"name":"lab"},"transform":[{"filter":"datum.p==18"}],"mark":{"type":"text","text":"E","align":"left","baseline":"middle","fontSize":16},"encoding":{"x":{"datum":101.3,"type":"quantitative","axis":{"orient":"bottom","labels":false,"domain":false,"title":null,"tickSize":-2.5,"values":[70,90,110,130,150]}},"y":{"datum":0.016,"type":"quantitative","axis":{"orient":"left","labels":false,"domain":false,"title":null,"tickSize":-2.5,"values":[0.005,0.006,0.007,0.008,0.009,0.02,0.03,0.04,0.05,0.06,0.07,0.08,0.09,0.2,0.3,0.4,0.5,0.6,0.7,0.8,0.9,2,3,4,5,6,7,8,9]}}}},
{"data":{"name":"lab"},"transform":[{"filter":"datum.p==18"}],"mark":{"type":"text","text":"n","align":"left","baseline":"middle","fontSize":12,"dx":11,"dy":4},"encoding":{"x":{"datum":101.3,"type":"quantitative","axis":{"orient":"top","labels":false,"domain":false,"title":null,"tickSize":-2.5,"values":[70,90,110,130,150]}},"y":{"datum":0.016,"type":"quantitative","axis":null}}},
{"data":{"name":"lab"},"transform":[{"filter":"datum.p==18"}],"mark":{"type":"text","align":"left","baseline":"middle","fontSize":16,"dx":18},"encoding":{"x":{"datum":101.3,"type":"quantitative","axis":null},"y":{"datum":0.016,"type":"quantitative","axis":null},"text":{"field":"t"}}}]}
]
}
